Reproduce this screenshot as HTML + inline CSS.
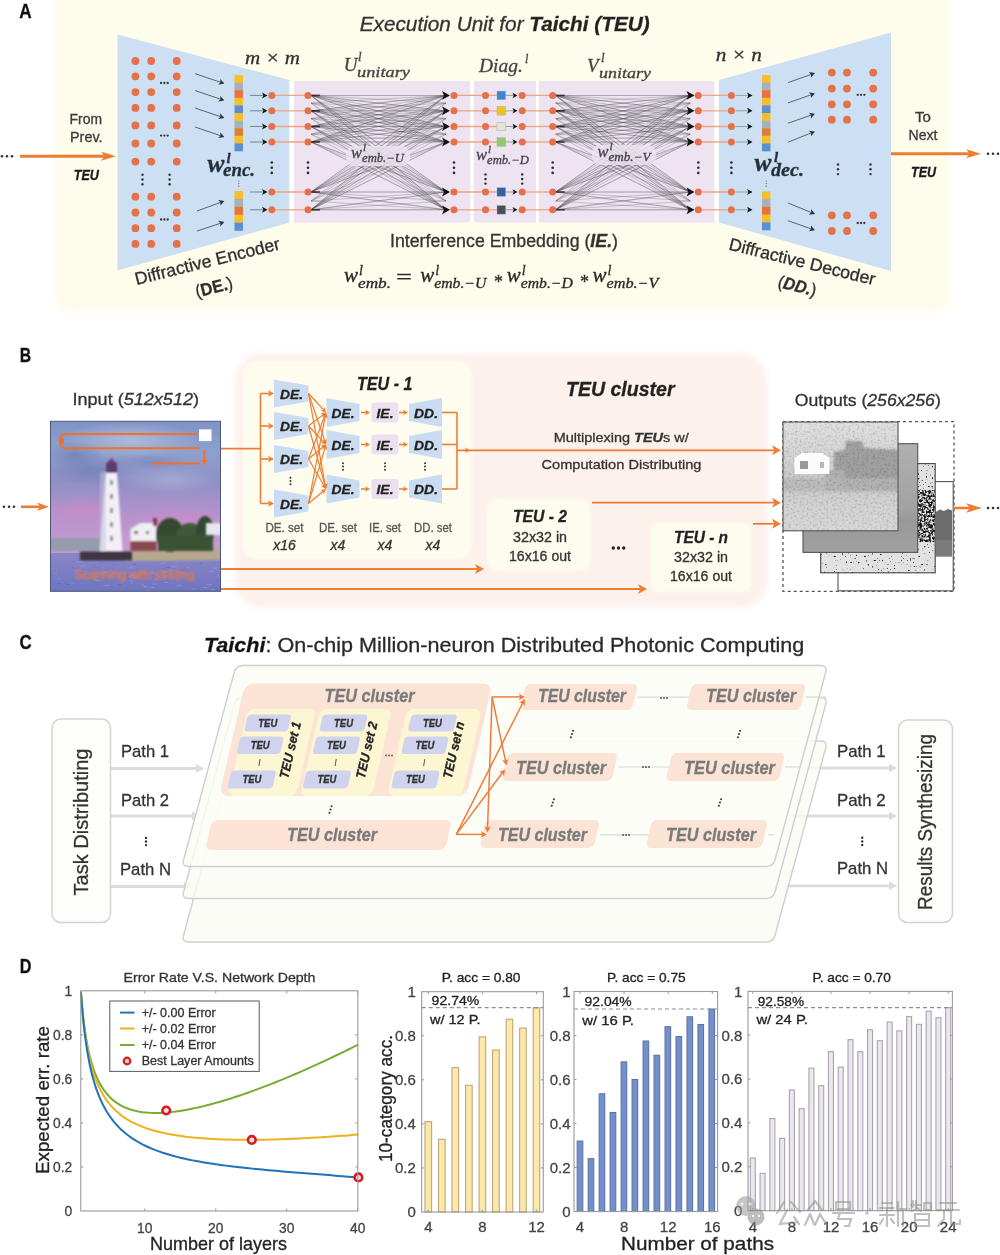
<!DOCTYPE html>
<html><head><meta charset="utf-8"><title>Taichi figure</title>
<style>html,body{margin:0;padding:0;background:#fff;} svg{display:block;filter:blur(0.45px);}</style>
</head><body>
<svg width="1000" height="1255" viewBox="0 0 1000 1255">
<defs>
<filter id="soft" x="-10%" y="-10%" width="120%" height="120%"><feGaussianBlur stdDeviation="3"/></filter>
<filter id="soft2" x="-10%" y="-10%" width="120%" height="120%"><feGaussianBlur stdDeviation="1.2"/></filter>
<filter id="soft1" x="-10%" y="-10%" width="120%" height="120%"><feGaussianBlur stdDeviation="0.6"/></filter>
</defs>
<rect width="1000" height="1255" fill="#ffffff"/>
<g id="panelA">
<rect x="55" y="-30" width="896" height="342" rx="14" fill="#fefceb" filter="url(#soft)"/>
<text x="19.3" y="18.4" font-family='"Liberation Sans", sans-serif' font-size="21" text-anchor="start" fill="#111" font-weight="bold" font-style="normal" textLength="12.4" lengthAdjust="spacingAndGlyphs"  stroke="#111" stroke-width="0.3">A</text>
<polygon points="117.5,34.5 289.5,80 289.5,222.5 117.5,270.5" fill="#cde0f3" />
<polygon points="719,80 891,32.5 891,271 719,222.5" fill="#cde0f3" />
<rect x="294" y="81" width="176.5" height="141.5" fill="#ede3f1" />
<rect x="473.5" y="81" width="62.5" height="141.5" fill="#ede3f1" />
<rect x="538.5" y="81" width="176" height="141.5" fill="#ede3f1" />
<rect x="289.5" y="81" width="4.5" height="141.5" fill="#fffffb" />
<rect x="470.5" y="81" width="3.0" height="141.5" fill="#fffffb" />
<rect x="536" y="81" width="2.5" height="141.5" fill="#fffffb" />
<rect x="714.5" y="81" width="4.5" height="141.5" fill="#fffffb" />
<circle cx="135.4" cy="61" r="3.9" fill="#e5714a" />
<circle cx="151.2" cy="61" r="3.9" fill="#e5714a" />
<circle cx="176.7" cy="61" r="3.9" fill="#e5714a" />
<circle cx="135.4" cy="76.3" r="3.9" fill="#e5714a" />
<circle cx="151.2" cy="76.3" r="3.9" fill="#e5714a" />
<circle cx="176.7" cy="76.3" r="3.9" fill="#e5714a" />
<circle cx="135.4" cy="92.1" r="3.9" fill="#e5714a" />
<circle cx="151.2" cy="92.1" r="3.9" fill="#e5714a" />
<circle cx="176.7" cy="92.1" r="3.9" fill="#e5714a" />
<circle cx="135.4" cy="107.9" r="3.9" fill="#e5714a" />
<circle cx="151.2" cy="107.9" r="3.9" fill="#e5714a" />
<circle cx="176.7" cy="107.9" r="3.9" fill="#e5714a" />
<circle cx="135.4" cy="125.4" r="3.9" fill="#e5714a" />
<circle cx="151.2" cy="125.4" r="3.9" fill="#e5714a" />
<circle cx="176.7" cy="125.4" r="3.9" fill="#e5714a" />
<circle cx="135.4" cy="143.5" r="3.9" fill="#e5714a" />
<circle cx="151.2" cy="143.5" r="3.9" fill="#e5714a" />
<circle cx="176.7" cy="143.5" r="3.9" fill="#e5714a" />
<circle cx="135.4" cy="161.6" r="3.9" fill="#e5714a" />
<circle cx="151.2" cy="161.6" r="3.9" fill="#e5714a" />
<circle cx="176.7" cy="161.6" r="3.9" fill="#e5714a" />
<circle cx="135.4" cy="196.7" r="3.9" fill="#e5714a" />
<circle cx="151.2" cy="196.7" r="3.9" fill="#e5714a" />
<circle cx="176.7" cy="196.7" r="3.9" fill="#e5714a" />
<circle cx="135.4" cy="212.5" r="3.9" fill="#e5714a" />
<circle cx="151.2" cy="212.5" r="3.9" fill="#e5714a" />
<circle cx="176.7" cy="212.5" r="3.9" fill="#e5714a" />
<circle cx="135.4" cy="228.2" r="3.9" fill="#e5714a" />
<circle cx="151.2" cy="228.2" r="3.9" fill="#e5714a" />
<circle cx="176.7" cy="228.2" r="3.9" fill="#e5714a" />
<circle cx="135.4" cy="243.9" r="3.9" fill="#e5714a" />
<circle cx="151.2" cy="243.9" r="3.9" fill="#e5714a" />
<circle cx="176.7" cy="243.9" r="3.9" fill="#e5714a" />
<circle cx="161.1" cy="83" r="1.15" fill="#333" />
<circle cx="164.4" cy="83" r="1.15" fill="#333" />
<circle cx="167.70000000000002" cy="83" r="1.15" fill="#333" />
<circle cx="161.1" cy="135.6" r="1.15" fill="#333" />
<circle cx="164.4" cy="135.6" r="1.15" fill="#333" />
<circle cx="167.70000000000002" cy="135.6" r="1.15" fill="#333" />
<circle cx="161.1" cy="219.5" r="1.15" fill="#333" />
<circle cx="164.4" cy="219.5" r="1.15" fill="#333" />
<circle cx="167.70000000000002" cy="219.5" r="1.15" fill="#333" />
<circle cx="142.5" cy="174.7" r="1.2" fill="#333" />
<circle cx="142.5" cy="179.5" r="1.2" fill="#333" />
<circle cx="142.5" cy="184.3" r="1.2" fill="#333" />
<circle cx="169.6" cy="174.7" r="1.2" fill="#333" />
<circle cx="169.6" cy="179.5" r="1.2" fill="#333" />
<circle cx="169.6" cy="184.3" r="1.2" fill="#333" />
<circle cx="831.8" cy="72.6" r="3.9" fill="#e5714a" />
<circle cx="847" cy="72.6" r="3.9" fill="#e5714a" />
<circle cx="873.2" cy="72.6" r="3.9" fill="#e5714a" />
<circle cx="831.8" cy="88.6" r="3.9" fill="#e5714a" />
<circle cx="847" cy="88.6" r="3.9" fill="#e5714a" />
<circle cx="873.2" cy="88.6" r="3.9" fill="#e5714a" />
<circle cx="831.8" cy="104.3" r="3.9" fill="#e5714a" />
<circle cx="847" cy="104.3" r="3.9" fill="#e5714a" />
<circle cx="873.2" cy="104.3" r="3.9" fill="#e5714a" />
<circle cx="831.8" cy="119.7" r="3.9" fill="#e5714a" />
<circle cx="847" cy="119.7" r="3.9" fill="#e5714a" />
<circle cx="873.2" cy="119.7" r="3.9" fill="#e5714a" />
<circle cx="831.8" cy="215.3" r="3.9" fill="#e5714a" />
<circle cx="847" cy="215.3" r="3.9" fill="#e5714a" />
<circle cx="873.2" cy="215.3" r="3.9" fill="#e5714a" />
<circle cx="831.8" cy="231" r="3.9" fill="#e5714a" />
<circle cx="847" cy="231" r="3.9" fill="#e5714a" />
<circle cx="873.2" cy="231" r="3.9" fill="#e5714a" />
<circle cx="857.7" cy="94.8" r="1.15" fill="#333" />
<circle cx="861.0" cy="94.8" r="1.15" fill="#333" />
<circle cx="864.3" cy="94.8" r="1.15" fill="#333" />
<circle cx="857.7" cy="223" r="1.15" fill="#333" />
<circle cx="861.0" cy="223" r="1.15" fill="#333" />
<circle cx="864.3" cy="223" r="1.15" fill="#333" />
<circle cx="838" cy="164.5" r="1.2" fill="#333" />
<circle cx="838" cy="169.3" r="1.2" fill="#333" />
<circle cx="838" cy="174.10000000000002" r="1.2" fill="#333" />
<circle cx="870.5" cy="164.5" r="1.2" fill="#333" />
<circle cx="870.5" cy="169.3" r="1.2" fill="#333" />
<circle cx="870.5" cy="174.10000000000002" r="1.2" fill="#333" />
<rect x="234.5" y="75.0" width="8.5" height="7.8999999999999995" fill="#f4bf2a" />
<rect x="234.5" y="82.6" width="8.5" height="7.8999999999999995" fill="#a9b1b8" />
<rect x="234.5" y="90.2" width="8.5" height="7.8999999999999995" fill="#e8743b" />
<rect x="234.5" y="97.8" width="8.5" height="7.8999999999999995" fill="#f4bf2a" />
<rect x="234.5" y="105.4" width="8.5" height="7.8999999999999995" fill="#5b8fcf" />
<rect x="234.5" y="113.0" width="8.5" height="7.8999999999999995" fill="#f4bf2a" />
<rect x="234.5" y="120.6" width="8.5" height="7.8999999999999995" fill="#a9b1b8" />
<rect x="234.5" y="128.2" width="8.5" height="7.8999999999999995" fill="#d9803a" />
<rect x="234.5" y="135.8" width="8.5" height="7.8999999999999995" fill="#f4bf2a" />
<rect x="234.5" y="143.39999999999998" width="8.5" height="7.8999999999999995" fill="#5b8fcf" />
<rect x="234.5" y="191.0" width="8.5" height="8.200000000000001" fill="#f4bf2a" />
<rect x="234.5" y="198.9" width="8.5" height="8.200000000000001" fill="#a9b1b8" />
<rect x="234.5" y="206.8" width="8.5" height="8.200000000000001" fill="#e8743b" />
<rect x="234.5" y="214.7" width="8.5" height="8.200000000000001" fill="#f4bf2a" />
<rect x="234.5" y="222.6" width="8.5" height="8.200000000000001" fill="#5b8fcf" />
<rect x="762" y="75.0" width="8.5" height="7.8999999999999995" fill="#f4bf2a" />
<rect x="762" y="82.6" width="8.5" height="7.8999999999999995" fill="#a9b1b8" />
<rect x="762" y="90.2" width="8.5" height="7.8999999999999995" fill="#e8743b" />
<rect x="762" y="97.8" width="8.5" height="7.8999999999999995" fill="#f4bf2a" />
<rect x="762" y="105.4" width="8.5" height="7.8999999999999995" fill="#5b8fcf" />
<rect x="762" y="113.0" width="8.5" height="7.8999999999999995" fill="#f4bf2a" />
<rect x="762" y="120.6" width="8.5" height="7.8999999999999995" fill="#a9b1b8" />
<rect x="762" y="128.2" width="8.5" height="7.8999999999999995" fill="#d9803a" />
<rect x="762" y="135.8" width="8.5" height="7.8999999999999995" fill="#f4bf2a" />
<rect x="762" y="143.39999999999998" width="8.5" height="7.8999999999999995" fill="#5b8fcf" />
<rect x="762" y="191.5" width="8.5" height="8.0" fill="#f4bf2a" />
<rect x="762" y="199.2" width="8.5" height="8.0" fill="#a9b1b8" />
<rect x="762" y="206.9" width="8.5" height="8.0" fill="#e8743b" />
<rect x="762" y="214.6" width="8.5" height="8.0" fill="#f4bf2a" />
<rect x="762" y="222.3" width="8.5" height="8.0" fill="#5b8fcf" />
<circle cx="238.8" cy="181.0" r="0.6" fill="#555" />
<circle cx="238.8" cy="183.6" r="0.6" fill="#555" />
<circle cx="238.8" cy="186.2" r="0.6" fill="#555" />
<circle cx="766.2" cy="181.0" r="0.6" fill="#555" />
<circle cx="766.2" cy="183.6" r="0.6" fill="#555" />
<circle cx="766.2" cy="186.2" r="0.6" fill="#555" />
<line x1="195" y1="73.6" x2="220.75507609680685" y2="82.36022996490028" stroke="#4a5560" stroke-width="0.9" />
<polygon points="224.4,83.6 218.21886082500285,84.69276873093789 220.4947243894359,82.27167496239315 220.16707088015957,78.9650311687772" fill="#2b3340" />
<line x1="195" y1="90.5" x2="220.75507609680685" y2="99.26022996490029" stroke="#4a5560" stroke-width="0.9" />
<polygon points="224.4,100.5 218.21886082500285,101.59276873093789 220.4947243894359,99.17167496239315 220.16707088015957,95.86503116877721" fill="#2b3340" />
<line x1="195" y1="108" x2="220.75507609680685" y2="116.76022996490029" stroke="#4a5560" stroke-width="0.9" />
<polygon points="224.4,118 218.21886082500285,119.09276873093789 220.4947243894359,116.67167496239315 220.16707088015957,113.36503116877721" fill="#2b3340" />
<line x1="195" y1="127" x2="220.75507609680685" y2="135.76022996490028" stroke="#4a5560" stroke-width="0.9" />
<polygon points="224.4,137 218.21886082500285,138.09276873093788 220.4947243894359,135.67167496239315 220.16707088015957,132.36503116877722" fill="#2b3340" />
<line x1="197" y1="211" x2="220.7833393494646" y2="202.31994914253116" stroke="#4a5560" stroke-width="0.9" />
<polygon points="224.4,201 220.2704448255096,205.7273035718938 220.5250064458549,202.41423122414056 218.1962390301035,200.043979692481" fill="#2b3340" />
<line x1="197" y1="231" x2="220.74226467273212" y2="223.20144591041645" stroke="#4a5560" stroke-width="0.9" />
<polygon points="224.4,222 220.11865703351594,226.59028620059115 220.48099786364153,223.2872634754462 218.2306706028615,220.84241640059872" fill="#2b3340" />
<line x1="788" y1="82.6" x2="811.3682472952761" y2="74.37783891462509" stroke="#4a5560" stroke-width="0.9" />
<polygon points="815,73.1 810.815798140457,77.77900414603323 811.1088363877958,74.46911312281259 808.8077655603317,72.07196418146702" fill="#2b3340" />
<line x1="788" y1="102.9" x2="811.3682472952761" y2="94.6778389146251" stroke="#4a5560" stroke-width="0.9" />
<polygon points="815,93.4 810.815798140457,98.07900414603324 811.1088363877958,94.7691131228126 808.8077655603317,92.37196418146704" fill="#2b3340" />
<line x1="788" y1="123.2" x2="811.3640508278443" y2="115.0658489710468" stroke="#4a5560" stroke-width="0.9" />
<polygon points="815,113.8 810.8003825170285,118.46517287961777 811.1043401726903,115.15626675469301 808.8111912768122,112.75153846623024" fill="#2b3340" />
<line x1="788" y1="142.2" x2="811.4253647400917" y2="132.8298541039633" stroke="#4a5560" stroke-width="0.9" />
<polygon points="815,131.4 811.0168349961023,136.2512907098755 811.1700336500983,132.9319865399607 808.76992140416,130.63400673001968" fill="#2b3340" />
<line x1="788" y1="203" x2="811.4345444148872" y2="212.54740698384296" stroke="#4a5560" stroke-width="0.9" />
<polygon points="815,214 808.765168937144,214.72629650807855 811.1798690159505,212.44365033983175 811.0478151053909,209.12343773147276" fill="#2b3340" />
<line x1="788" y1="220.7" x2="811.3682472952761" y2="228.92216108537488" stroke="#4a5560" stroke-width="0.9" />
<polygon points="815,230.2 808.8077655603317,231.22803581853296 811.1088363877958,228.8308868771874 810.815798140457,225.52099585396675" fill="#2b3340" />
<line x1="271.8" y1="95.4" x2="308" y2="95.4" stroke="#f0a383" stroke-width="1.3" />
<line x1="454" y1="95.4" x2="497" y2="95.4" stroke="#f0a383" stroke-width="1.3" />
<line x1="522.2" y1="95.4" x2="552.7" y2="95.4" stroke="#f0a383" stroke-width="1.3" />
<line x1="698.3" y1="95.4" x2="731.4" y2="95.4" stroke="#f0a383" stroke-width="1.3" />
<line x1="271.8" y1="110.8" x2="308" y2="110.8" stroke="#f0a383" stroke-width="1.3" />
<line x1="454" y1="110.8" x2="497" y2="110.8" stroke="#f0a383" stroke-width="1.3" />
<line x1="522.2" y1="110.8" x2="552.7" y2="110.8" stroke="#f0a383" stroke-width="1.3" />
<line x1="698.3" y1="110.8" x2="731.4" y2="110.8" stroke="#f0a383" stroke-width="1.3" />
<line x1="271.8" y1="126.5" x2="308" y2="126.5" stroke="#f0a383" stroke-width="1.3" />
<line x1="454" y1="126.5" x2="497" y2="126.5" stroke="#f0a383" stroke-width="1.3" />
<line x1="522.2" y1="126.5" x2="552.7" y2="126.5" stroke="#f0a383" stroke-width="1.3" />
<line x1="698.3" y1="126.5" x2="731.4" y2="126.5" stroke="#f0a383" stroke-width="1.3" />
<line x1="271.8" y1="142" x2="308" y2="142" stroke="#f0a383" stroke-width="1.3" />
<line x1="454" y1="142" x2="497" y2="142" stroke="#f0a383" stroke-width="1.3" />
<line x1="522.2" y1="142" x2="552.7" y2="142" stroke="#f0a383" stroke-width="1.3" />
<line x1="698.3" y1="142" x2="731.4" y2="142" stroke="#f0a383" stroke-width="1.3" />
<line x1="271.8" y1="192" x2="308" y2="192" stroke="#f0a383" stroke-width="1.3" />
<line x1="454" y1="192" x2="497" y2="192" stroke="#f0a383" stroke-width="1.3" />
<line x1="522.2" y1="192" x2="552.7" y2="192" stroke="#f0a383" stroke-width="1.3" />
<line x1="698.3" y1="192" x2="731.4" y2="192" stroke="#f0a383" stroke-width="1.3" />
<line x1="271.8" y1="209.8" x2="308" y2="209.8" stroke="#f0a383" stroke-width="1.3" />
<line x1="454" y1="209.8" x2="497" y2="209.8" stroke="#f0a383" stroke-width="1.3" />
<line x1="522.2" y1="209.8" x2="552.7" y2="209.8" stroke="#f0a383" stroke-width="1.3" />
<line x1="698.3" y1="209.8" x2="731.4" y2="209.8" stroke="#f0a383" stroke-width="1.3" />
<line x1="311" y1="95.4" x2="446" y2="95.4" stroke="#404040" stroke-width="0.7" opacity="0.34"/>
<line x1="311" y1="95.4" x2="446" y2="103" stroke="#404040" stroke-width="0.7" opacity="0.34"/>
<line x1="311" y1="95.4" x2="446" y2="110.8" stroke="#404040" stroke-width="0.7" opacity="0.34"/>
<line x1="311" y1="95.4" x2="446" y2="118.6" stroke="#404040" stroke-width="0.7" opacity="0.34"/>
<line x1="311" y1="95.4" x2="446" y2="126.5" stroke="#404040" stroke-width="0.7" opacity="0.34"/>
<line x1="311" y1="95.4" x2="446" y2="134.2" stroke="#404040" stroke-width="0.7" opacity="0.34"/>
<line x1="311" y1="95.4" x2="446" y2="142" stroke="#404040" stroke-width="0.7" opacity="0.34"/>
<line x1="311" y1="95.4" x2="446" y2="192" stroke="#404040" stroke-width="0.7" opacity="0.34"/>
<line x1="311" y1="95.4" x2="446" y2="201" stroke="#404040" stroke-width="0.7" opacity="0.34"/>
<line x1="311" y1="95.4" x2="446" y2="209.8" stroke="#404040" stroke-width="0.7" opacity="0.34"/>
<line x1="311" y1="110.8" x2="446" y2="95.4" stroke="#404040" stroke-width="0.7" opacity="0.34"/>
<line x1="311" y1="110.8" x2="446" y2="103" stroke="#404040" stroke-width="0.7" opacity="0.34"/>
<line x1="311" y1="110.8" x2="446" y2="110.8" stroke="#404040" stroke-width="0.7" opacity="0.34"/>
<line x1="311" y1="110.8" x2="446" y2="118.6" stroke="#404040" stroke-width="0.7" opacity="0.34"/>
<line x1="311" y1="110.8" x2="446" y2="126.5" stroke="#404040" stroke-width="0.7" opacity="0.34"/>
<line x1="311" y1="110.8" x2="446" y2="134.2" stroke="#404040" stroke-width="0.7" opacity="0.34"/>
<line x1="311" y1="110.8" x2="446" y2="142" stroke="#404040" stroke-width="0.7" opacity="0.34"/>
<line x1="311" y1="110.8" x2="446" y2="192" stroke="#404040" stroke-width="0.7" opacity="0.34"/>
<line x1="311" y1="110.8" x2="446" y2="201" stroke="#404040" stroke-width="0.7" opacity="0.34"/>
<line x1="311" y1="110.8" x2="446" y2="209.8" stroke="#404040" stroke-width="0.7" opacity="0.34"/>
<line x1="311" y1="126.5" x2="446" y2="95.4" stroke="#404040" stroke-width="0.7" opacity="0.34"/>
<line x1="311" y1="126.5" x2="446" y2="103" stroke="#404040" stroke-width="0.7" opacity="0.34"/>
<line x1="311" y1="126.5" x2="446" y2="110.8" stroke="#404040" stroke-width="0.7" opacity="0.34"/>
<line x1="311" y1="126.5" x2="446" y2="118.6" stroke="#404040" stroke-width="0.7" opacity="0.34"/>
<line x1="311" y1="126.5" x2="446" y2="126.5" stroke="#404040" stroke-width="0.7" opacity="0.34"/>
<line x1="311" y1="126.5" x2="446" y2="134.2" stroke="#404040" stroke-width="0.7" opacity="0.34"/>
<line x1="311" y1="126.5" x2="446" y2="142" stroke="#404040" stroke-width="0.7" opacity="0.34"/>
<line x1="311" y1="126.5" x2="446" y2="192" stroke="#404040" stroke-width="0.7" opacity="0.34"/>
<line x1="311" y1="126.5" x2="446" y2="201" stroke="#404040" stroke-width="0.7" opacity="0.34"/>
<line x1="311" y1="126.5" x2="446" y2="209.8" stroke="#404040" stroke-width="0.7" opacity="0.34"/>
<line x1="311" y1="142" x2="446" y2="95.4" stroke="#404040" stroke-width="0.7" opacity="0.34"/>
<line x1="311" y1="142" x2="446" y2="103" stroke="#404040" stroke-width="0.7" opacity="0.34"/>
<line x1="311" y1="142" x2="446" y2="110.8" stroke="#404040" stroke-width="0.7" opacity="0.34"/>
<line x1="311" y1="142" x2="446" y2="118.6" stroke="#404040" stroke-width="0.7" opacity="0.34"/>
<line x1="311" y1="142" x2="446" y2="126.5" stroke="#404040" stroke-width="0.7" opacity="0.34"/>
<line x1="311" y1="142" x2="446" y2="134.2" stroke="#404040" stroke-width="0.7" opacity="0.34"/>
<line x1="311" y1="142" x2="446" y2="142" stroke="#404040" stroke-width="0.7" opacity="0.34"/>
<line x1="311" y1="142" x2="446" y2="192" stroke="#404040" stroke-width="0.7" opacity="0.34"/>
<line x1="311" y1="142" x2="446" y2="201" stroke="#404040" stroke-width="0.7" opacity="0.34"/>
<line x1="311" y1="142" x2="446" y2="209.8" stroke="#404040" stroke-width="0.7" opacity="0.34"/>
<line x1="311" y1="192" x2="446" y2="95.4" stroke="#404040" stroke-width="0.7" opacity="0.34"/>
<line x1="311" y1="192" x2="446" y2="103" stroke="#404040" stroke-width="0.7" opacity="0.34"/>
<line x1="311" y1="192" x2="446" y2="110.8" stroke="#404040" stroke-width="0.7" opacity="0.34"/>
<line x1="311" y1="192" x2="446" y2="118.6" stroke="#404040" stroke-width="0.7" opacity="0.34"/>
<line x1="311" y1="192" x2="446" y2="126.5" stroke="#404040" stroke-width="0.7" opacity="0.34"/>
<line x1="311" y1="192" x2="446" y2="134.2" stroke="#404040" stroke-width="0.7" opacity="0.34"/>
<line x1="311" y1="192" x2="446" y2="142" stroke="#404040" stroke-width="0.7" opacity="0.34"/>
<line x1="311" y1="192" x2="446" y2="192" stroke="#404040" stroke-width="0.7" opacity="0.34"/>
<line x1="311" y1="192" x2="446" y2="201" stroke="#404040" stroke-width="0.7" opacity="0.34"/>
<line x1="311" y1="192" x2="446" y2="209.8" stroke="#404040" stroke-width="0.7" opacity="0.34"/>
<line x1="311" y1="209.8" x2="446" y2="95.4" stroke="#404040" stroke-width="0.7" opacity="0.34"/>
<line x1="311" y1="209.8" x2="446" y2="103" stroke="#404040" stroke-width="0.7" opacity="0.34"/>
<line x1="311" y1="209.8" x2="446" y2="110.8" stroke="#404040" stroke-width="0.7" opacity="0.34"/>
<line x1="311" y1="209.8" x2="446" y2="118.6" stroke="#404040" stroke-width="0.7" opacity="0.34"/>
<line x1="311" y1="209.8" x2="446" y2="126.5" stroke="#404040" stroke-width="0.7" opacity="0.34"/>
<line x1="311" y1="209.8" x2="446" y2="134.2" stroke="#404040" stroke-width="0.7" opacity="0.34"/>
<line x1="311" y1="209.8" x2="446" y2="142" stroke="#404040" stroke-width="0.7" opacity="0.34"/>
<line x1="311" y1="209.8" x2="446" y2="192" stroke="#404040" stroke-width="0.7" opacity="0.34"/>
<line x1="311" y1="209.8" x2="446" y2="201" stroke="#404040" stroke-width="0.7" opacity="0.34"/>
<line x1="311" y1="209.8" x2="446" y2="209.8" stroke="#404040" stroke-width="0.7" opacity="0.34"/>
<line x1="311" y1="95.4" x2="446" y2="95.4" stroke="#404040" stroke-width="0.7" opacity="0.34"/>
<line x1="311" y1="103" x2="446" y2="95.4" stroke="#404040" stroke-width="0.7" opacity="0.34"/>
<line x1="311" y1="110.8" x2="446" y2="95.4" stroke="#404040" stroke-width="0.7" opacity="0.34"/>
<line x1="311" y1="118.6" x2="446" y2="95.4" stroke="#404040" stroke-width="0.7" opacity="0.34"/>
<line x1="311" y1="126.5" x2="446" y2="95.4" stroke="#404040" stroke-width="0.7" opacity="0.34"/>
<line x1="311" y1="134.2" x2="446" y2="95.4" stroke="#404040" stroke-width="0.7" opacity="0.34"/>
<line x1="311" y1="142" x2="446" y2="95.4" stroke="#404040" stroke-width="0.7" opacity="0.34"/>
<line x1="311" y1="192" x2="446" y2="95.4" stroke="#404040" stroke-width="0.7" opacity="0.34"/>
<line x1="311" y1="201" x2="446" y2="95.4" stroke="#404040" stroke-width="0.7" opacity="0.34"/>
<line x1="311" y1="209.8" x2="446" y2="95.4" stroke="#404040" stroke-width="0.7" opacity="0.34"/>
<line x1="311" y1="95.4" x2="446" y2="110.8" stroke="#404040" stroke-width="0.7" opacity="0.34"/>
<line x1="311" y1="103" x2="446" y2="110.8" stroke="#404040" stroke-width="0.7" opacity="0.34"/>
<line x1="311" y1="110.8" x2="446" y2="110.8" stroke="#404040" stroke-width="0.7" opacity="0.34"/>
<line x1="311" y1="118.6" x2="446" y2="110.8" stroke="#404040" stroke-width="0.7" opacity="0.34"/>
<line x1="311" y1="126.5" x2="446" y2="110.8" stroke="#404040" stroke-width="0.7" opacity="0.34"/>
<line x1="311" y1="134.2" x2="446" y2="110.8" stroke="#404040" stroke-width="0.7" opacity="0.34"/>
<line x1="311" y1="142" x2="446" y2="110.8" stroke="#404040" stroke-width="0.7" opacity="0.34"/>
<line x1="311" y1="192" x2="446" y2="110.8" stroke="#404040" stroke-width="0.7" opacity="0.34"/>
<line x1="311" y1="201" x2="446" y2="110.8" stroke="#404040" stroke-width="0.7" opacity="0.34"/>
<line x1="311" y1="209.8" x2="446" y2="110.8" stroke="#404040" stroke-width="0.7" opacity="0.34"/>
<line x1="311" y1="95.4" x2="446" y2="126.5" stroke="#404040" stroke-width="0.7" opacity="0.34"/>
<line x1="311" y1="103" x2="446" y2="126.5" stroke="#404040" stroke-width="0.7" opacity="0.34"/>
<line x1="311" y1="110.8" x2="446" y2="126.5" stroke="#404040" stroke-width="0.7" opacity="0.34"/>
<line x1="311" y1="118.6" x2="446" y2="126.5" stroke="#404040" stroke-width="0.7" opacity="0.34"/>
<line x1="311" y1="126.5" x2="446" y2="126.5" stroke="#404040" stroke-width="0.7" opacity="0.34"/>
<line x1="311" y1="134.2" x2="446" y2="126.5" stroke="#404040" stroke-width="0.7" opacity="0.34"/>
<line x1="311" y1="142" x2="446" y2="126.5" stroke="#404040" stroke-width="0.7" opacity="0.34"/>
<line x1="311" y1="192" x2="446" y2="126.5" stroke="#404040" stroke-width="0.7" opacity="0.34"/>
<line x1="311" y1="201" x2="446" y2="126.5" stroke="#404040" stroke-width="0.7" opacity="0.34"/>
<line x1="311" y1="209.8" x2="446" y2="126.5" stroke="#404040" stroke-width="0.7" opacity="0.34"/>
<line x1="311" y1="95.4" x2="446" y2="142" stroke="#404040" stroke-width="0.7" opacity="0.34"/>
<line x1="311" y1="103" x2="446" y2="142" stroke="#404040" stroke-width="0.7" opacity="0.34"/>
<line x1="311" y1="110.8" x2="446" y2="142" stroke="#404040" stroke-width="0.7" opacity="0.34"/>
<line x1="311" y1="118.6" x2="446" y2="142" stroke="#404040" stroke-width="0.7" opacity="0.34"/>
<line x1="311" y1="126.5" x2="446" y2="142" stroke="#404040" stroke-width="0.7" opacity="0.34"/>
<line x1="311" y1="134.2" x2="446" y2="142" stroke="#404040" stroke-width="0.7" opacity="0.34"/>
<line x1="311" y1="142" x2="446" y2="142" stroke="#404040" stroke-width="0.7" opacity="0.34"/>
<line x1="311" y1="192" x2="446" y2="142" stroke="#404040" stroke-width="0.7" opacity="0.34"/>
<line x1="311" y1="201" x2="446" y2="142" stroke="#404040" stroke-width="0.7" opacity="0.34"/>
<line x1="311" y1="209.8" x2="446" y2="142" stroke="#404040" stroke-width="0.7" opacity="0.34"/>
<line x1="311" y1="95.4" x2="446" y2="192" stroke="#404040" stroke-width="0.7" opacity="0.34"/>
<line x1="311" y1="103" x2="446" y2="192" stroke="#404040" stroke-width="0.7" opacity="0.34"/>
<line x1="311" y1="110.8" x2="446" y2="192" stroke="#404040" stroke-width="0.7" opacity="0.34"/>
<line x1="311" y1="118.6" x2="446" y2="192" stroke="#404040" stroke-width="0.7" opacity="0.34"/>
<line x1="311" y1="126.5" x2="446" y2="192" stroke="#404040" stroke-width="0.7" opacity="0.34"/>
<line x1="311" y1="134.2" x2="446" y2="192" stroke="#404040" stroke-width="0.7" opacity="0.34"/>
<line x1="311" y1="142" x2="446" y2="192" stroke="#404040" stroke-width="0.7" opacity="0.34"/>
<line x1="311" y1="192" x2="446" y2="192" stroke="#404040" stroke-width="0.7" opacity="0.34"/>
<line x1="311" y1="201" x2="446" y2="192" stroke="#404040" stroke-width="0.7" opacity="0.34"/>
<line x1="311" y1="209.8" x2="446" y2="192" stroke="#404040" stroke-width="0.7" opacity="0.34"/>
<line x1="311" y1="95.4" x2="446" y2="209.8" stroke="#404040" stroke-width="0.7" opacity="0.34"/>
<line x1="311" y1="103" x2="446" y2="209.8" stroke="#404040" stroke-width="0.7" opacity="0.34"/>
<line x1="311" y1="110.8" x2="446" y2="209.8" stroke="#404040" stroke-width="0.7" opacity="0.34"/>
<line x1="311" y1="118.6" x2="446" y2="209.8" stroke="#404040" stroke-width="0.7" opacity="0.34"/>
<line x1="311" y1="126.5" x2="446" y2="209.8" stroke="#404040" stroke-width="0.7" opacity="0.34"/>
<line x1="311" y1="134.2" x2="446" y2="209.8" stroke="#404040" stroke-width="0.7" opacity="0.34"/>
<line x1="311" y1="142" x2="446" y2="209.8" stroke="#404040" stroke-width="0.7" opacity="0.34"/>
<line x1="311" y1="192" x2="446" y2="209.8" stroke="#404040" stroke-width="0.7" opacity="0.34"/>
<line x1="311" y1="201" x2="446" y2="209.8" stroke="#404040" stroke-width="0.7" opacity="0.34"/>
<line x1="311" y1="209.8" x2="446" y2="209.8" stroke="#404040" stroke-width="0.7" opacity="0.34"/>
<line x1="311" y1="95.4" x2="320" y2="95.4" stroke="#222" stroke-width="1.6" opacity="0.8"/>
<line x1="311" y1="110.8" x2="320" y2="110.8" stroke="#222" stroke-width="1.6" opacity="0.8"/>
<line x1="311" y1="126.5" x2="320" y2="126.5" stroke="#222" stroke-width="1.6" opacity="0.8"/>
<line x1="311" y1="142" x2="320" y2="142" stroke="#222" stroke-width="1.6" opacity="0.8"/>
<line x1="311" y1="192" x2="320" y2="192" stroke="#222" stroke-width="1.6" opacity="0.8"/>
<line x1="311" y1="209.8" x2="320" y2="209.8" stroke="#222" stroke-width="1.6" opacity="0.8"/>
<line x1="555.7" y1="95.4" x2="690.3" y2="95.4" stroke="#404040" stroke-width="0.7" opacity="0.34"/>
<line x1="555.7" y1="95.4" x2="690.3" y2="103" stroke="#404040" stroke-width="0.7" opacity="0.34"/>
<line x1="555.7" y1="95.4" x2="690.3" y2="110.8" stroke="#404040" stroke-width="0.7" opacity="0.34"/>
<line x1="555.7" y1="95.4" x2="690.3" y2="118.6" stroke="#404040" stroke-width="0.7" opacity="0.34"/>
<line x1="555.7" y1="95.4" x2="690.3" y2="126.5" stroke="#404040" stroke-width="0.7" opacity="0.34"/>
<line x1="555.7" y1="95.4" x2="690.3" y2="134.2" stroke="#404040" stroke-width="0.7" opacity="0.34"/>
<line x1="555.7" y1="95.4" x2="690.3" y2="142" stroke="#404040" stroke-width="0.7" opacity="0.34"/>
<line x1="555.7" y1="95.4" x2="690.3" y2="192" stroke="#404040" stroke-width="0.7" opacity="0.34"/>
<line x1="555.7" y1="95.4" x2="690.3" y2="201" stroke="#404040" stroke-width="0.7" opacity="0.34"/>
<line x1="555.7" y1="95.4" x2="690.3" y2="209.8" stroke="#404040" stroke-width="0.7" opacity="0.34"/>
<line x1="555.7" y1="110.8" x2="690.3" y2="95.4" stroke="#404040" stroke-width="0.7" opacity="0.34"/>
<line x1="555.7" y1="110.8" x2="690.3" y2="103" stroke="#404040" stroke-width="0.7" opacity="0.34"/>
<line x1="555.7" y1="110.8" x2="690.3" y2="110.8" stroke="#404040" stroke-width="0.7" opacity="0.34"/>
<line x1="555.7" y1="110.8" x2="690.3" y2="118.6" stroke="#404040" stroke-width="0.7" opacity="0.34"/>
<line x1="555.7" y1="110.8" x2="690.3" y2="126.5" stroke="#404040" stroke-width="0.7" opacity="0.34"/>
<line x1="555.7" y1="110.8" x2="690.3" y2="134.2" stroke="#404040" stroke-width="0.7" opacity="0.34"/>
<line x1="555.7" y1="110.8" x2="690.3" y2="142" stroke="#404040" stroke-width="0.7" opacity="0.34"/>
<line x1="555.7" y1="110.8" x2="690.3" y2="192" stroke="#404040" stroke-width="0.7" opacity="0.34"/>
<line x1="555.7" y1="110.8" x2="690.3" y2="201" stroke="#404040" stroke-width="0.7" opacity="0.34"/>
<line x1="555.7" y1="110.8" x2="690.3" y2="209.8" stroke="#404040" stroke-width="0.7" opacity="0.34"/>
<line x1="555.7" y1="126.5" x2="690.3" y2="95.4" stroke="#404040" stroke-width="0.7" opacity="0.34"/>
<line x1="555.7" y1="126.5" x2="690.3" y2="103" stroke="#404040" stroke-width="0.7" opacity="0.34"/>
<line x1="555.7" y1="126.5" x2="690.3" y2="110.8" stroke="#404040" stroke-width="0.7" opacity="0.34"/>
<line x1="555.7" y1="126.5" x2="690.3" y2="118.6" stroke="#404040" stroke-width="0.7" opacity="0.34"/>
<line x1="555.7" y1="126.5" x2="690.3" y2="126.5" stroke="#404040" stroke-width="0.7" opacity="0.34"/>
<line x1="555.7" y1="126.5" x2="690.3" y2="134.2" stroke="#404040" stroke-width="0.7" opacity="0.34"/>
<line x1="555.7" y1="126.5" x2="690.3" y2="142" stroke="#404040" stroke-width="0.7" opacity="0.34"/>
<line x1="555.7" y1="126.5" x2="690.3" y2="192" stroke="#404040" stroke-width="0.7" opacity="0.34"/>
<line x1="555.7" y1="126.5" x2="690.3" y2="201" stroke="#404040" stroke-width="0.7" opacity="0.34"/>
<line x1="555.7" y1="126.5" x2="690.3" y2="209.8" stroke="#404040" stroke-width="0.7" opacity="0.34"/>
<line x1="555.7" y1="142" x2="690.3" y2="95.4" stroke="#404040" stroke-width="0.7" opacity="0.34"/>
<line x1="555.7" y1="142" x2="690.3" y2="103" stroke="#404040" stroke-width="0.7" opacity="0.34"/>
<line x1="555.7" y1="142" x2="690.3" y2="110.8" stroke="#404040" stroke-width="0.7" opacity="0.34"/>
<line x1="555.7" y1="142" x2="690.3" y2="118.6" stroke="#404040" stroke-width="0.7" opacity="0.34"/>
<line x1="555.7" y1="142" x2="690.3" y2="126.5" stroke="#404040" stroke-width="0.7" opacity="0.34"/>
<line x1="555.7" y1="142" x2="690.3" y2="134.2" stroke="#404040" stroke-width="0.7" opacity="0.34"/>
<line x1="555.7" y1="142" x2="690.3" y2="142" stroke="#404040" stroke-width="0.7" opacity="0.34"/>
<line x1="555.7" y1="142" x2="690.3" y2="192" stroke="#404040" stroke-width="0.7" opacity="0.34"/>
<line x1="555.7" y1="142" x2="690.3" y2="201" stroke="#404040" stroke-width="0.7" opacity="0.34"/>
<line x1="555.7" y1="142" x2="690.3" y2="209.8" stroke="#404040" stroke-width="0.7" opacity="0.34"/>
<line x1="555.7" y1="192" x2="690.3" y2="95.4" stroke="#404040" stroke-width="0.7" opacity="0.34"/>
<line x1="555.7" y1="192" x2="690.3" y2="103" stroke="#404040" stroke-width="0.7" opacity="0.34"/>
<line x1="555.7" y1="192" x2="690.3" y2="110.8" stroke="#404040" stroke-width="0.7" opacity="0.34"/>
<line x1="555.7" y1="192" x2="690.3" y2="118.6" stroke="#404040" stroke-width="0.7" opacity="0.34"/>
<line x1="555.7" y1="192" x2="690.3" y2="126.5" stroke="#404040" stroke-width="0.7" opacity="0.34"/>
<line x1="555.7" y1="192" x2="690.3" y2="134.2" stroke="#404040" stroke-width="0.7" opacity="0.34"/>
<line x1="555.7" y1="192" x2="690.3" y2="142" stroke="#404040" stroke-width="0.7" opacity="0.34"/>
<line x1="555.7" y1="192" x2="690.3" y2="192" stroke="#404040" stroke-width="0.7" opacity="0.34"/>
<line x1="555.7" y1="192" x2="690.3" y2="201" stroke="#404040" stroke-width="0.7" opacity="0.34"/>
<line x1="555.7" y1="192" x2="690.3" y2="209.8" stroke="#404040" stroke-width="0.7" opacity="0.34"/>
<line x1="555.7" y1="209.8" x2="690.3" y2="95.4" stroke="#404040" stroke-width="0.7" opacity="0.34"/>
<line x1="555.7" y1="209.8" x2="690.3" y2="103" stroke="#404040" stroke-width="0.7" opacity="0.34"/>
<line x1="555.7" y1="209.8" x2="690.3" y2="110.8" stroke="#404040" stroke-width="0.7" opacity="0.34"/>
<line x1="555.7" y1="209.8" x2="690.3" y2="118.6" stroke="#404040" stroke-width="0.7" opacity="0.34"/>
<line x1="555.7" y1="209.8" x2="690.3" y2="126.5" stroke="#404040" stroke-width="0.7" opacity="0.34"/>
<line x1="555.7" y1="209.8" x2="690.3" y2="134.2" stroke="#404040" stroke-width="0.7" opacity="0.34"/>
<line x1="555.7" y1="209.8" x2="690.3" y2="142" stroke="#404040" stroke-width="0.7" opacity="0.34"/>
<line x1="555.7" y1="209.8" x2="690.3" y2="192" stroke="#404040" stroke-width="0.7" opacity="0.34"/>
<line x1="555.7" y1="209.8" x2="690.3" y2="201" stroke="#404040" stroke-width="0.7" opacity="0.34"/>
<line x1="555.7" y1="209.8" x2="690.3" y2="209.8" stroke="#404040" stroke-width="0.7" opacity="0.34"/>
<line x1="555.7" y1="95.4" x2="690.3" y2="95.4" stroke="#404040" stroke-width="0.7" opacity="0.34"/>
<line x1="555.7" y1="103" x2="690.3" y2="95.4" stroke="#404040" stroke-width="0.7" opacity="0.34"/>
<line x1="555.7" y1="110.8" x2="690.3" y2="95.4" stroke="#404040" stroke-width="0.7" opacity="0.34"/>
<line x1="555.7" y1="118.6" x2="690.3" y2="95.4" stroke="#404040" stroke-width="0.7" opacity="0.34"/>
<line x1="555.7" y1="126.5" x2="690.3" y2="95.4" stroke="#404040" stroke-width="0.7" opacity="0.34"/>
<line x1="555.7" y1="134.2" x2="690.3" y2="95.4" stroke="#404040" stroke-width="0.7" opacity="0.34"/>
<line x1="555.7" y1="142" x2="690.3" y2="95.4" stroke="#404040" stroke-width="0.7" opacity="0.34"/>
<line x1="555.7" y1="192" x2="690.3" y2="95.4" stroke="#404040" stroke-width="0.7" opacity="0.34"/>
<line x1="555.7" y1="201" x2="690.3" y2="95.4" stroke="#404040" stroke-width="0.7" opacity="0.34"/>
<line x1="555.7" y1="209.8" x2="690.3" y2="95.4" stroke="#404040" stroke-width="0.7" opacity="0.34"/>
<line x1="555.7" y1="95.4" x2="690.3" y2="110.8" stroke="#404040" stroke-width="0.7" opacity="0.34"/>
<line x1="555.7" y1="103" x2="690.3" y2="110.8" stroke="#404040" stroke-width="0.7" opacity="0.34"/>
<line x1="555.7" y1="110.8" x2="690.3" y2="110.8" stroke="#404040" stroke-width="0.7" opacity="0.34"/>
<line x1="555.7" y1="118.6" x2="690.3" y2="110.8" stroke="#404040" stroke-width="0.7" opacity="0.34"/>
<line x1="555.7" y1="126.5" x2="690.3" y2="110.8" stroke="#404040" stroke-width="0.7" opacity="0.34"/>
<line x1="555.7" y1="134.2" x2="690.3" y2="110.8" stroke="#404040" stroke-width="0.7" opacity="0.34"/>
<line x1="555.7" y1="142" x2="690.3" y2="110.8" stroke="#404040" stroke-width="0.7" opacity="0.34"/>
<line x1="555.7" y1="192" x2="690.3" y2="110.8" stroke="#404040" stroke-width="0.7" opacity="0.34"/>
<line x1="555.7" y1="201" x2="690.3" y2="110.8" stroke="#404040" stroke-width="0.7" opacity="0.34"/>
<line x1="555.7" y1="209.8" x2="690.3" y2="110.8" stroke="#404040" stroke-width="0.7" opacity="0.34"/>
<line x1="555.7" y1="95.4" x2="690.3" y2="126.5" stroke="#404040" stroke-width="0.7" opacity="0.34"/>
<line x1="555.7" y1="103" x2="690.3" y2="126.5" stroke="#404040" stroke-width="0.7" opacity="0.34"/>
<line x1="555.7" y1="110.8" x2="690.3" y2="126.5" stroke="#404040" stroke-width="0.7" opacity="0.34"/>
<line x1="555.7" y1="118.6" x2="690.3" y2="126.5" stroke="#404040" stroke-width="0.7" opacity="0.34"/>
<line x1="555.7" y1="126.5" x2="690.3" y2="126.5" stroke="#404040" stroke-width="0.7" opacity="0.34"/>
<line x1="555.7" y1="134.2" x2="690.3" y2="126.5" stroke="#404040" stroke-width="0.7" opacity="0.34"/>
<line x1="555.7" y1="142" x2="690.3" y2="126.5" stroke="#404040" stroke-width="0.7" opacity="0.34"/>
<line x1="555.7" y1="192" x2="690.3" y2="126.5" stroke="#404040" stroke-width="0.7" opacity="0.34"/>
<line x1="555.7" y1="201" x2="690.3" y2="126.5" stroke="#404040" stroke-width="0.7" opacity="0.34"/>
<line x1="555.7" y1="209.8" x2="690.3" y2="126.5" stroke="#404040" stroke-width="0.7" opacity="0.34"/>
<line x1="555.7" y1="95.4" x2="690.3" y2="142" stroke="#404040" stroke-width="0.7" opacity="0.34"/>
<line x1="555.7" y1="103" x2="690.3" y2="142" stroke="#404040" stroke-width="0.7" opacity="0.34"/>
<line x1="555.7" y1="110.8" x2="690.3" y2="142" stroke="#404040" stroke-width="0.7" opacity="0.34"/>
<line x1="555.7" y1="118.6" x2="690.3" y2="142" stroke="#404040" stroke-width="0.7" opacity="0.34"/>
<line x1="555.7" y1="126.5" x2="690.3" y2="142" stroke="#404040" stroke-width="0.7" opacity="0.34"/>
<line x1="555.7" y1="134.2" x2="690.3" y2="142" stroke="#404040" stroke-width="0.7" opacity="0.34"/>
<line x1="555.7" y1="142" x2="690.3" y2="142" stroke="#404040" stroke-width="0.7" opacity="0.34"/>
<line x1="555.7" y1="192" x2="690.3" y2="142" stroke="#404040" stroke-width="0.7" opacity="0.34"/>
<line x1="555.7" y1="201" x2="690.3" y2="142" stroke="#404040" stroke-width="0.7" opacity="0.34"/>
<line x1="555.7" y1="209.8" x2="690.3" y2="142" stroke="#404040" stroke-width="0.7" opacity="0.34"/>
<line x1="555.7" y1="95.4" x2="690.3" y2="192" stroke="#404040" stroke-width="0.7" opacity="0.34"/>
<line x1="555.7" y1="103" x2="690.3" y2="192" stroke="#404040" stroke-width="0.7" opacity="0.34"/>
<line x1="555.7" y1="110.8" x2="690.3" y2="192" stroke="#404040" stroke-width="0.7" opacity="0.34"/>
<line x1="555.7" y1="118.6" x2="690.3" y2="192" stroke="#404040" stroke-width="0.7" opacity="0.34"/>
<line x1="555.7" y1="126.5" x2="690.3" y2="192" stroke="#404040" stroke-width="0.7" opacity="0.34"/>
<line x1="555.7" y1="134.2" x2="690.3" y2="192" stroke="#404040" stroke-width="0.7" opacity="0.34"/>
<line x1="555.7" y1="142" x2="690.3" y2="192" stroke="#404040" stroke-width="0.7" opacity="0.34"/>
<line x1="555.7" y1="192" x2="690.3" y2="192" stroke="#404040" stroke-width="0.7" opacity="0.34"/>
<line x1="555.7" y1="201" x2="690.3" y2="192" stroke="#404040" stroke-width="0.7" opacity="0.34"/>
<line x1="555.7" y1="209.8" x2="690.3" y2="192" stroke="#404040" stroke-width="0.7" opacity="0.34"/>
<line x1="555.7" y1="95.4" x2="690.3" y2="209.8" stroke="#404040" stroke-width="0.7" opacity="0.34"/>
<line x1="555.7" y1="103" x2="690.3" y2="209.8" stroke="#404040" stroke-width="0.7" opacity="0.34"/>
<line x1="555.7" y1="110.8" x2="690.3" y2="209.8" stroke="#404040" stroke-width="0.7" opacity="0.34"/>
<line x1="555.7" y1="118.6" x2="690.3" y2="209.8" stroke="#404040" stroke-width="0.7" opacity="0.34"/>
<line x1="555.7" y1="126.5" x2="690.3" y2="209.8" stroke="#404040" stroke-width="0.7" opacity="0.34"/>
<line x1="555.7" y1="134.2" x2="690.3" y2="209.8" stroke="#404040" stroke-width="0.7" opacity="0.34"/>
<line x1="555.7" y1="142" x2="690.3" y2="209.8" stroke="#404040" stroke-width="0.7" opacity="0.34"/>
<line x1="555.7" y1="192" x2="690.3" y2="209.8" stroke="#404040" stroke-width="0.7" opacity="0.34"/>
<line x1="555.7" y1="201" x2="690.3" y2="209.8" stroke="#404040" stroke-width="0.7" opacity="0.34"/>
<line x1="555.7" y1="209.8" x2="690.3" y2="209.8" stroke="#404040" stroke-width="0.7" opacity="0.34"/>
<line x1="555.7" y1="95.4" x2="564.7" y2="95.4" stroke="#222" stroke-width="1.6" opacity="0.8"/>
<line x1="555.7" y1="110.8" x2="564.7" y2="110.8" stroke="#222" stroke-width="1.6" opacity="0.8"/>
<line x1="555.7" y1="126.5" x2="564.7" y2="126.5" stroke="#222" stroke-width="1.6" opacity="0.8"/>
<line x1="555.7" y1="142" x2="564.7" y2="142" stroke="#222" stroke-width="1.6" opacity="0.8"/>
<line x1="555.7" y1="192" x2="564.7" y2="192" stroke="#222" stroke-width="1.6" opacity="0.8"/>
<line x1="555.7" y1="209.8" x2="564.7" y2="209.8" stroke="#222" stroke-width="1.6" opacity="0.8"/>
<polygon points="450,95.4 442.0,99.80000000000001 444.0,95.4 442.0,91.0" fill="#111" />
<polygon points="694.5,95.4 686.5,99.80000000000001 688.5,95.4 686.5,91.0" fill="#111" />
<polygon points="450,110.8 442.0,115.2 444.0,110.8 442.0,106.39999999999999" fill="#111" />
<polygon points="694.5,110.8 686.5,115.2 688.5,110.8 686.5,106.39999999999999" fill="#111" />
<polygon points="450,126.5 442.0,130.9 444.0,126.5 442.0,122.1" fill="#111" />
<polygon points="694.5,126.5 686.5,130.9 688.5,126.5 686.5,122.1" fill="#111" />
<polygon points="450,142 442.0,146.4 444.0,142.0 442.0,137.6" fill="#111" />
<polygon points="694.5,142 686.5,146.4 688.5,142.0 686.5,137.6" fill="#111" />
<polygon points="450,192 442.0,196.4 444.0,192.0 442.0,187.6" fill="#111" />
<polygon points="694.5,192 686.5,196.4 688.5,192.0 686.5,187.6" fill="#111" />
<polygon points="450,209.8 442.0,214.20000000000002 444.0,209.8 442.0,205.4" fill="#111" />
<polygon points="694.5,209.8 686.5,214.20000000000002 688.5,209.8 686.5,205.4" fill="#111" />
<line x1="250" y1="95.4" x2="263.65" y2="95.4" stroke="#6a7a8a" stroke-width="0.9" />
<polygon points="267.5,95.4 262.0,98.42500000000001 263.375,95.4 262.0,92.375" fill="#111" />
<line x1="735.5" y1="95.4" x2="748.65" y2="95.4" stroke="#8a9aa0" stroke-width="0.9" />
<polygon points="752.5,95.4 747.0,98.42500000000001 748.375,95.4 747.0,92.375" fill="#111" />
<line x1="250" y1="110.8" x2="263.65" y2="110.8" stroke="#6a7a8a" stroke-width="0.9" />
<polygon points="267.5,110.8 262.0,113.825 263.375,110.8 262.0,107.77499999999999" fill="#111" />
<line x1="735.5" y1="110.8" x2="748.65" y2="110.8" stroke="#8a9aa0" stroke-width="0.9" />
<polygon points="752.5,110.8 747.0,113.825 748.375,110.8 747.0,107.77499999999999" fill="#111" />
<line x1="250" y1="126.5" x2="263.65" y2="126.5" stroke="#6a7a8a" stroke-width="0.9" />
<polygon points="267.5,126.5 262.0,129.525 263.375,126.5 262.0,123.475" fill="#111" />
<line x1="735.5" y1="126.5" x2="748.65" y2="126.5" stroke="#8a9aa0" stroke-width="0.9" />
<polygon points="752.5,126.5 747.0,129.525 748.375,126.5 747.0,123.475" fill="#111" />
<line x1="250" y1="142" x2="263.65" y2="142.0" stroke="#6a7a8a" stroke-width="0.9" />
<polygon points="267.5,142 262.0,145.025 263.375,142.0 262.0,138.975" fill="#111" />
<line x1="735.5" y1="142" x2="748.65" y2="142.0" stroke="#8a9aa0" stroke-width="0.9" />
<polygon points="752.5,142 747.0,145.025 748.375,142.0 747.0,138.975" fill="#111" />
<line x1="250" y1="192" x2="263.65" y2="192.0" stroke="#6a7a8a" stroke-width="0.9" />
<polygon points="267.5,192 262.0,195.025 263.375,192.0 262.0,188.975" fill="#111" />
<line x1="735.5" y1="192" x2="748.65" y2="192.0" stroke="#8a9aa0" stroke-width="0.9" />
<polygon points="752.5,192 747.0,195.025 748.375,192.0 747.0,188.975" fill="#111" />
<line x1="250" y1="209.8" x2="263.65" y2="209.8" stroke="#6a7a8a" stroke-width="0.9" />
<polygon points="267.5,209.8 262.0,212.82500000000002 263.375,209.8 262.0,206.775" fill="#111" />
<line x1="735.5" y1="209.8" x2="748.65" y2="209.8" stroke="#8a9aa0" stroke-width="0.9" />
<polygon points="752.5,209.8 747.0,212.82500000000002 748.375,209.8 747.0,206.775" fill="#111" />
<line x1="505.5" y1="95.4" x2="514.0" y2="95.4" stroke="#888" stroke-width="0.8" />
<polygon points="517.5,95.4 512.5,98.15 513.75,95.4 512.5,92.65" fill="#111" />
<line x1="505.5" y1="110.8" x2="514.0" y2="110.8" stroke="#888" stroke-width="0.8" />
<polygon points="517.5,110.8 512.5,113.55 513.75,110.8 512.5,108.05" fill="#111" />
<line x1="505.5" y1="126.5" x2="514.0" y2="126.5" stroke="#888" stroke-width="0.8" />
<polygon points="517.5,126.5 512.5,129.25 513.75,126.5 512.5,123.75" fill="#111" />
<line x1="505.5" y1="142" x2="514.0" y2="142.0" stroke="#888" stroke-width="0.8" />
<polygon points="517.5,142 512.5,144.75 513.75,142.0 512.5,139.25" fill="#111" />
<line x1="505.5" y1="192" x2="514.0" y2="192.0" stroke="#888" stroke-width="0.8" />
<polygon points="517.5,192 512.5,194.75 513.75,192.0 512.5,189.25" fill="#111" />
<line x1="505.5" y1="209.8" x2="514.0" y2="209.8" stroke="#888" stroke-width="0.8" />
<polygon points="517.5,209.8 512.5,212.55 513.75,209.8 512.5,207.05" fill="#111" />
<circle cx="271.8" cy="95.4" r="3.5" fill="#e5714a" />
<circle cx="308" cy="95.4" r="3.5" fill="#e5714a" />
<circle cx="454" cy="95.4" r="3.5" fill="#e5714a" />
<circle cx="485.5" cy="95.4" r="3.5" fill="#e5714a" />
<circle cx="522.2" cy="95.4" r="3.5" fill="#e5714a" />
<circle cx="552.7" cy="95.4" r="3.5" fill="#e5714a" />
<circle cx="698.3" cy="95.4" r="3.5" fill="#e5714a" />
<circle cx="731.4" cy="95.4" r="3.5" fill="#e5714a" />
<circle cx="271.8" cy="110.8" r="3.5" fill="#e5714a" />
<circle cx="308" cy="110.8" r="3.5" fill="#e5714a" />
<circle cx="454" cy="110.8" r="3.5" fill="#e5714a" />
<circle cx="485.5" cy="110.8" r="3.5" fill="#e5714a" />
<circle cx="522.2" cy="110.8" r="3.5" fill="#e5714a" />
<circle cx="552.7" cy="110.8" r="3.5" fill="#e5714a" />
<circle cx="698.3" cy="110.8" r="3.5" fill="#e5714a" />
<circle cx="731.4" cy="110.8" r="3.5" fill="#e5714a" />
<circle cx="271.8" cy="126.5" r="3.5" fill="#e5714a" />
<circle cx="308" cy="126.5" r="3.5" fill="#e5714a" />
<circle cx="454" cy="126.5" r="3.5" fill="#e5714a" />
<circle cx="485.5" cy="126.5" r="3.5" fill="#e5714a" />
<circle cx="522.2" cy="126.5" r="3.5" fill="#e5714a" />
<circle cx="552.7" cy="126.5" r="3.5" fill="#e5714a" />
<circle cx="698.3" cy="126.5" r="3.5" fill="#e5714a" />
<circle cx="731.4" cy="126.5" r="3.5" fill="#e5714a" />
<circle cx="271.8" cy="142" r="3.5" fill="#e5714a" />
<circle cx="308" cy="142" r="3.5" fill="#e5714a" />
<circle cx="454" cy="142" r="3.5" fill="#e5714a" />
<circle cx="485.5" cy="142" r="3.5" fill="#e5714a" />
<circle cx="522.2" cy="142" r="3.5" fill="#e5714a" />
<circle cx="552.7" cy="142" r="3.5" fill="#e5714a" />
<circle cx="698.3" cy="142" r="3.5" fill="#e5714a" />
<circle cx="731.4" cy="142" r="3.5" fill="#e5714a" />
<circle cx="271.8" cy="192" r="3.5" fill="#e5714a" />
<circle cx="308" cy="192" r="3.5" fill="#e5714a" />
<circle cx="454" cy="192" r="3.5" fill="#e5714a" />
<circle cx="485.5" cy="192" r="3.5" fill="#e5714a" />
<circle cx="522.2" cy="192" r="3.5" fill="#e5714a" />
<circle cx="552.7" cy="192" r="3.5" fill="#e5714a" />
<circle cx="698.3" cy="192" r="3.5" fill="#e5714a" />
<circle cx="731.4" cy="192" r="3.5" fill="#e5714a" />
<circle cx="271.8" cy="209.8" r="3.5" fill="#e5714a" />
<circle cx="308" cy="209.8" r="3.5" fill="#e5714a" />
<circle cx="454" cy="209.8" r="3.5" fill="#e5714a" />
<circle cx="485.5" cy="209.8" r="3.5" fill="#e5714a" />
<circle cx="522.2" cy="209.8" r="3.5" fill="#e5714a" />
<circle cx="552.7" cy="209.8" r="3.5" fill="#e5714a" />
<circle cx="698.3" cy="209.8" r="3.5" fill="#e5714a" />
<circle cx="731.4" cy="209.8" r="3.5" fill="#e5714a" />
<rect x="497" y="91.10000000000001" width="8.6" height="8.6" fill="#3f84d4" stroke="#9aa" stroke-width="0.4"/>
<rect x="497" y="106.5" width="8.6" height="8.6" fill="#f1c21b" stroke="#9aa" stroke-width="0.4"/>
<rect x="497" y="122.2" width="8.6" height="8.6" fill="#dfe6d8" stroke="#9aa" stroke-width="0.4"/>
<rect x="497" y="137.7" width="8.6" height="8.6" fill="#8ccc6c" stroke="#9aa" stroke-width="0.4"/>
<rect x="497" y="187.7" width="8.6" height="8.6" fill="#2f62a8" stroke="#9aa" stroke-width="0.4"/>
<rect x="497" y="205.5" width="8.6" height="8.6" fill="#4a5058" stroke="#9aa" stroke-width="0.4"/>
<circle cx="271.8" cy="162.5" r="1.3" fill="#2a2a2a" />
<circle cx="271.8" cy="167.7" r="1.3" fill="#2a2a2a" />
<circle cx="271.8" cy="172.89999999999998" r="1.3" fill="#2a2a2a" />
<circle cx="308" cy="162.5" r="1.3" fill="#2a2a2a" />
<circle cx="308" cy="167.7" r="1.3" fill="#2a2a2a" />
<circle cx="308" cy="172.89999999999998" r="1.3" fill="#2a2a2a" />
<circle cx="454" cy="162.5" r="1.3" fill="#2a2a2a" />
<circle cx="454" cy="167.7" r="1.3" fill="#2a2a2a" />
<circle cx="454" cy="172.89999999999998" r="1.3" fill="#2a2a2a" />
<circle cx="552.7" cy="162.5" r="1.3" fill="#2a2a2a" />
<circle cx="552.7" cy="167.7" r="1.3" fill="#2a2a2a" />
<circle cx="552.7" cy="172.89999999999998" r="1.3" fill="#2a2a2a" />
<circle cx="698.3" cy="162.5" r="1.3" fill="#2a2a2a" />
<circle cx="698.3" cy="167.7" r="1.3" fill="#2a2a2a" />
<circle cx="698.3" cy="172.89999999999998" r="1.3" fill="#2a2a2a" />
<circle cx="731.4" cy="162.5" r="1.3" fill="#2a2a2a" />
<circle cx="731.4" cy="167.7" r="1.3" fill="#2a2a2a" />
<circle cx="731.4" cy="172.89999999999998" r="1.3" fill="#2a2a2a" />
<circle cx="485.5" cy="174.4" r="1.2" fill="#2a2a2a" />
<circle cx="485.5" cy="179.0" r="1.2" fill="#2a2a2a" />
<circle cx="485.5" cy="183.6" r="1.2" fill="#2a2a2a" />
<circle cx="522.2" cy="174.4" r="1.2" fill="#2a2a2a" />
<circle cx="522.2" cy="179.0" r="1.2" fill="#2a2a2a" />
<circle cx="522.2" cy="183.6" r="1.2" fill="#2a2a2a" />
<text x="245" y="63.8" font-family='"Liberation Serif", serif' font-style="italic" font-size="19" fill="#333" textLength="55" lengthAdjust="spacingAndGlyphs" stroke="#333" stroke-width="0.3">m × m</text>
<text x="715.8" y="60.7" font-family='"Liberation Serif", serif' font-style="italic" font-size="19" fill="#333" textLength="46" lengthAdjust="spacingAndGlyphs" stroke="#333" stroke-width="0.3">n × n</text>
<text x="343.7" y="71" font-family='"Liberation Serif", serif' font-style="italic" font-size="19" fill="#444" stroke="#444" stroke-width="0.3">U</text>
<text x="358" y="61" font-family='"Liberation Serif", serif' font-style="italic" font-size="13" fill="#444" stroke="#444" stroke-width="0.3">l</text>
<text x="357" y="77" font-family='"Liberation Serif", serif' font-style="italic" font-size="14" fill="#444" textLength="53" lengthAdjust="spacingAndGlyphs" stroke="#444" stroke-width="0.3">unitary</text>
<text x="479" y="72" font-family='"Liberation Serif", serif' font-style="italic" font-size="18" fill="#444" textLength="44" lengthAdjust="spacingAndGlyphs" stroke="#444" stroke-width="0.3">Diag.</text>
<text x="525" y="63" font-family='"Liberation Serif", serif' font-style="italic" font-size="12" fill="#444" stroke="#444" stroke-width="0.3">l</text>
<text x="587" y="72" font-family='"Liberation Serif", serif' font-style="italic" font-size="19" fill="#444" stroke="#444" stroke-width="0.3">V</text>
<text x="601" y="62" font-family='"Liberation Serif", serif' font-style="italic" font-size="13" fill="#444" stroke="#444" stroke-width="0.3">l</text>
<text x="599" y="77.5" font-family='"Liberation Serif", serif' font-style="italic" font-size="14" fill="#444" textLength="52" lengthAdjust="spacingAndGlyphs" stroke="#444" stroke-width="0.3">unitary</text>
<text x="207.6" y="171.5" font-family='"Liberation Serif", serif' font-style="italic" font-weight="bold" font-size="25" fill="#26303c" textLength="17" lengthAdjust="spacingAndGlyphs" stroke="#26303c" stroke-width="0.3">w</text>
<text x="226.5" y="162.5" font-family='"Liberation Serif", serif' font-style="italic" font-weight="bold" font-size="15" fill="#26303c" stroke="#26303c" stroke-width="0.3">l</text>
<text x="223" y="176" font-family='"Liberation Serif", serif' font-style="italic" font-weight="bold" font-size="19.5" fill="#26303c" textLength="32" lengthAdjust="spacingAndGlyphs" stroke="#26303c" stroke-width="0.3">enc.</text>
<text x="754.5" y="170.6" font-family='"Liberation Serif", serif' font-style="italic" font-weight="bold" font-size="25" fill="#26303c" textLength="17" lengthAdjust="spacingAndGlyphs" stroke="#26303c" stroke-width="0.3">w</text>
<text x="774" y="161.5" font-family='"Liberation Serif", serif' font-style="italic" font-weight="bold" font-size="15" fill="#26303c" stroke="#26303c" stroke-width="0.3">l</text>
<text x="771" y="175.5" font-family='"Liberation Serif", serif' font-style="italic" font-weight="bold" font-size="19.5" fill="#26303c" textLength="33" lengthAdjust="spacingAndGlyphs" stroke="#26303c" stroke-width="0.3">dec.</text>
<rect x="346" y="146" width="64" height="20" rx="8" fill="#ede3f1" opacity="0.8"/>
<rect x="592" y="145" width="64" height="20" rx="8" fill="#ede3f1" opacity="0.8"/>
<text x="351" y="158" font-family='"Liberation Serif", serif' font-style="italic" font-size="17" fill="#444" textLength="11" lengthAdjust="spacingAndGlyphs" stroke="#444" stroke-width="0.3">w</text>
<text x="363" y="151" font-family='"Liberation Serif", serif' font-style="italic" font-size="11" fill="#444" stroke="#444" stroke-width="0.3">l</text>
<text x="362" y="162" font-family='"Liberation Serif", serif' font-style="italic" font-size="12" fill="#444" textLength="42" lengthAdjust="spacingAndGlyphs" stroke="#444" stroke-width="0.3">emb.−U</text>
<text x="476" y="160" font-family='"Liberation Serif", serif' font-style="italic" font-size="17" fill="#444" textLength="11" lengthAdjust="spacingAndGlyphs" stroke="#444" stroke-width="0.3">w</text>
<text x="488" y="153" font-family='"Liberation Serif", serif' font-style="italic" font-size="11" fill="#444" stroke="#444" stroke-width="0.3">l</text>
<text x="487" y="164" font-family='"Liberation Serif", serif' font-style="italic" font-size="12" fill="#444" textLength="42" lengthAdjust="spacingAndGlyphs" stroke="#444" stroke-width="0.3">emb.−D</text>
<text x="597.5" y="157" font-family='"Liberation Serif", serif' font-style="italic" font-size="17" fill="#444" textLength="11" lengthAdjust="spacingAndGlyphs" stroke="#444" stroke-width="0.3">w</text>
<text x="609.5" y="150" font-family='"Liberation Serif", serif' font-style="italic" font-size="11" fill="#444" stroke="#444" stroke-width="0.3">l</text>
<text x="608.5" y="161" font-family='"Liberation Serif", serif' font-style="italic" font-size="12" fill="#444" textLength="42" lengthAdjust="spacingAndGlyphs" stroke="#444" stroke-width="0.3">emb.−V</text>
<text x="359.7" y="31.3" font-family='"Liberation Sans", sans-serif' font-size="20" fill="#333" textLength="290" lengthAdjust="spacingAndGlyphs" stroke="#333" stroke-width="0.3"><tspan font-style="italic">Execution Unit for </tspan><tspan font-style="italic" font-weight="bold" fill="#222">Taichi (TEU)</tspan></text>
<text x="69.6" y="123.5" font-family='"Liberation Sans", sans-serif' font-size="14" text-anchor="start" fill="#3a3a3a" font-weight="normal" font-style="normal" textLength="32.4" lengthAdjust="spacingAndGlyphs"  stroke="#3a3a3a" stroke-width="0.3">From</text>
<text x="70" y="142" font-family='"Liberation Sans", sans-serif' font-size="14" text-anchor="start" fill="#3a3a3a" font-weight="normal" font-style="normal" textLength="32.5" lengthAdjust="spacingAndGlyphs"  stroke="#3a3a3a" stroke-width="0.3">Prev.</text>
<text x="73.7" y="179.5" font-family='"Liberation Sans", sans-serif' font-size="14" text-anchor="start" fill="#1a1a1a" font-weight="bold" font-style="italic" textLength="25.2" lengthAdjust="spacingAndGlyphs"  stroke="#1a1a1a" stroke-width="0.3">TEU</text>
<text x="915" y="121.9" font-family='"Liberation Sans", sans-serif' font-size="14" text-anchor="start" fill="#3a3a3a" font-weight="normal" font-style="normal" textLength="16" lengthAdjust="spacingAndGlyphs"  stroke="#3a3a3a" stroke-width="0.3">To</text>
<text x="908.5" y="139.5" font-family='"Liberation Sans", sans-serif' font-size="14" text-anchor="start" fill="#3a3a3a" font-weight="normal" font-style="normal" textLength="29" lengthAdjust="spacingAndGlyphs"  stroke="#3a3a3a" stroke-width="0.3">Next</text>
<text x="911" y="177.4" font-family='"Liberation Sans", sans-serif' font-size="14" text-anchor="start" fill="#1a1a1a" font-weight="bold" font-style="italic" textLength="25" lengthAdjust="spacingAndGlyphs"  stroke="#1a1a1a" stroke-width="0.3">TEU</text>
<line x1="20" y1="156.3" x2="105.5" y2="156.3" stroke="#ed7d31" stroke-width="3" />
<polygon points="116,156.3 101.0,160.8 104.75,156.3 101.0,151.8" fill="#ed7d31" />
<line x1="891" y1="153.8" x2="970.5" y2="153.8" stroke="#ed7d31" stroke-width="3" />
<polygon points="981,153.8 966.0,158.3 969.75,153.8 966.0,149.3" fill="#ed7d31" />
<circle cx="2" cy="156.3" r="1.3" fill="#333" />
<circle cx="988" cy="153.8" r="1.3" fill="#333" />
<circle cx="7" cy="156.3" r="1.3" fill="#333" />
<circle cx="993" cy="153.8" r="1.3" fill="#333" />
<circle cx="12" cy="156.3" r="1.3" fill="#333" />
<circle cx="998" cy="153.8" r="1.3" fill="#333" />
<text x="390" y="247" font-family='"Liberation Sans", sans-serif' font-size="18" fill="#333" textLength="228" lengthAdjust="spacingAndGlyphs" stroke="#333" stroke-width="0.3">Interference Embedding (<tspan font-weight="bold" font-style="italic">IE.</tspan>)</text>
<text x="344" y="282.3" font-family='"Liberation Serif", serif' font-style="italic" font-size="20" fill="#2a2a2a" textLength="14" lengthAdjust="spacingAndGlyphs" stroke="#2a2a2a" stroke-width="0.3">w</text>
<text x="359" y="275.3" font-family='"Liberation Serif", serif' font-style="italic" font-size="14" fill="#2a2a2a" stroke="#2a2a2a" stroke-width="0.3">l</text>
<text x="358" y="288.0" font-family='"Liberation Serif", serif' font-style="italic" font-size="14" fill="#2a2a2a" textLength="33" lengthAdjust="spacingAndGlyphs" stroke="#2a2a2a" stroke-width="0.3">emb.</text>
<text x="396" y="284" font-family='"Liberation Serif", serif' font-size="21" fill="#2a2a2a" textLength="16" lengthAdjust="spacingAndGlyphs" stroke="#2a2a2a" stroke-width="0.3">=</text>
<text x="420.3" y="282.3" font-family='"Liberation Serif", serif' font-style="italic" font-size="20" fill="#2a2a2a" textLength="14" lengthAdjust="spacingAndGlyphs" stroke="#2a2a2a" stroke-width="0.3">w</text>
<text x="435.3" y="275.3" font-family='"Liberation Serif", serif' font-style="italic" font-size="14" fill="#2a2a2a" stroke="#2a2a2a" stroke-width="0.3">l</text>
<text x="434.3" y="288.0" font-family='"Liberation Serif", serif' font-style="italic" font-size="14" fill="#2a2a2a" textLength="52" lengthAdjust="spacingAndGlyphs" stroke="#2a2a2a" stroke-width="0.3">emb.−U</text>
<text x="494" y="288" font-family='"Liberation Serif", serif' font-size="18" fill="#2a2a2a" stroke="#2a2a2a" stroke-width="0.3">*</text>
<text x="506.8" y="282.3" font-family='"Liberation Serif", serif' font-style="italic" font-size="20" fill="#2a2a2a" textLength="14" lengthAdjust="spacingAndGlyphs" stroke="#2a2a2a" stroke-width="0.3">w</text>
<text x="521.8" y="275.3" font-family='"Liberation Serif", serif' font-style="italic" font-size="14" fill="#2a2a2a" stroke="#2a2a2a" stroke-width="0.3">l</text>
<text x="520.8" y="288.0" font-family='"Liberation Serif", serif' font-style="italic" font-size="14" fill="#2a2a2a" textLength="52" lengthAdjust="spacingAndGlyphs" stroke="#2a2a2a" stroke-width="0.3">emb.−D</text>
<text x="580" y="288" font-family='"Liberation Serif", serif' font-size="18" fill="#2a2a2a" stroke="#2a2a2a" stroke-width="0.3">*</text>
<text x="592.5" y="282.3" font-family='"Liberation Serif", serif' font-style="italic" font-size="20" fill="#2a2a2a" textLength="14" lengthAdjust="spacingAndGlyphs" stroke="#2a2a2a" stroke-width="0.3">w</text>
<text x="607.5" y="275.3" font-family='"Liberation Serif", serif' font-style="italic" font-size="14" fill="#2a2a2a" stroke="#2a2a2a" stroke-width="0.3">l</text>
<text x="606.5" y="288.0" font-family='"Liberation Serif", serif' font-style="italic" font-size="14" fill="#2a2a2a" textLength="52" lengthAdjust="spacingAndGlyphs" stroke="#2a2a2a" stroke-width="0.3">emb.−V</text>
<text transform="translate(136.5,285) rotate(-14)" font-family='"Liberation Sans", sans-serif' font-size="17.5" fill="#2e2e2e" textLength="149" lengthAdjust="spacingAndGlyphs" stroke="#2e2e2e" stroke-width="0.3">Diffractive Encoder</text>
<text transform="translate(197,297.5) rotate(-14)" font-family='"Liberation Sans", sans-serif' font-size="17.5" fill="#2e2e2e" textLength="38" lengthAdjust="spacingAndGlyphs" stroke="#2e2e2e" stroke-width="0.3">(<tspan font-weight="bold">DE.</tspan>)</text>
<text transform="translate(728,249.5) rotate(13.8)" font-family='"Liberation Sans", sans-serif' font-size="17.5" fill="#2e2e2e" textLength="150" lengthAdjust="spacingAndGlyphs" stroke="#2e2e2e" stroke-width="0.3">Diffractive Decoder</text>
<text transform="translate(777,287) rotate(13.8)" font-family='"Liberation Sans", sans-serif' font-size="17.5" fill="#2e2e2e" textLength="39" lengthAdjust="spacingAndGlyphs" stroke="#2e2e2e" stroke-width="0.3">(<tspan font-weight="bold" font-style="italic">DD.</tspan>)</text>
</g>
<g id="panelB">
<text x="19.8" y="362.3" font-family='"Liberation Sans", sans-serif' font-size="21" text-anchor="start" fill="#111" font-weight="bold" font-style="normal" textLength="11.4" lengthAdjust="spacingAndGlyphs"  stroke="#111" stroke-width="0.3">B</text>
<rect x="235" y="353.5" width="532" height="254" rx="26" fill="#fdf1ec" filter="url(#soft)"/>
<rect x="242.5" y="361" width="229.5" height="198" rx="14" fill="#fefcee" filter="url(#soft2)"/>
<rect x="487" y="499" width="103.5" height="72" rx="10" fill="#fefcee" filter="url(#soft2)"/>
<rect x="650" y="522" width="101.5" height="70" rx="10" fill="#fefcee" filter="url(#soft2)"/>
<text x="72.5" y="405" font-family='"Liberation Sans", sans-serif' font-size="16.5" fill="#333" textLength="126.5" lengthAdjust="spacingAndGlyphs" stroke="#333" stroke-width="0.3">Input (<tspan font-style="italic">512x512</tspan>)</text>
<text x="794.8" y="406" font-family='"Liberation Sans", sans-serif' font-size="16.5" fill="#333" textLength="146" lengthAdjust="spacingAndGlyphs" stroke="#333" stroke-width="0.3">Outputs (<tspan font-style="italic">256x256</tspan>)</text>
<defs>
<linearGradient id="sky" x1="0" y1="0" x2="0" y2="1">
<stop offset="0" stop-color="#7f93c6"/>
<stop offset="0.18" stop-color="#8ea0cc"/>
<stop offset="0.35" stop-color="#8f8fc6"/>
<stop offset="0.55" stop-color="#b592cc"/>
<stop offset="0.72" stop-color="#c79ad0"/>
<stop offset="1" stop-color="#c79ad0"/>
</linearGradient>
<linearGradient id="water" x1="0" y1="0" x2="0" y2="1">
<stop offset="0" stop-color="#8b86c8"/>
<stop offset="1" stop-color="#6d74c0"/>
</linearGradient>
<radialGradient id="cloud1" cx="0.5" cy="0.5" r="0.5"><stop offset="0" stop-color="#b6c3dc" stop-opacity="0.8"/><stop offset="1" stop-color="#b6c3dc" stop-opacity="0"/></radialGradient>
<radialGradient id="cloud2" cx="0.5" cy="0.5" r="0.5"><stop offset="0" stop-color="#6e7cb4" stop-opacity="0.7"/><stop offset="1" stop-color="#6e7cb4" stop-opacity="0"/></radialGradient>
<radialGradient id="pinkc" cx="0.5" cy="0.5" r="0.5"><stop offset="0" stop-color="#d08ac8" stop-opacity="0.7"/><stop offset="1" stop-color="#d08ac8" stop-opacity="0"/></radialGradient>
<clipPath id="imgclip"><rect x="50.5" y="421.3" width="170" height="170"/></clipPath>
<filter id="bl1"><feGaussianBlur stdDeviation="0.8"/></filter>
<filter id="bl2"><feGaussianBlur stdDeviation="1.6"/></filter>
</defs>
<g clip-path="url(#imgclip)">
<rect x="50.5" y="421.3" width="170" height="170" fill="url(#sky)" />
<ellipse cx="130" cy="440" rx="70" ry="18" fill="url(#cloud1)"/>
<ellipse cx="90" cy="470" rx="45" ry="15" fill="url(#cloud2)"/>
<ellipse cx="75" cy="455" rx="30" ry="14" fill="url(#cloud2)"/>
<ellipse cx="150" cy="462" rx="40" ry="8" fill="url(#cloud2)" opacity="0.6"/>
<ellipse cx="170" cy="480" rx="50" ry="14" fill="url(#cloud1)" opacity="0.6"/>
<ellipse cx="80" cy="510" rx="40" ry="14" fill="url(#pinkc)"/>
<ellipse cx="180" cy="520" rx="45" ry="14" fill="url(#pinkc)"/>
<rect x="50" y="538" width="60" height="13" fill="#8e9ea8" opacity="0.9" filter="url(#bl1)"/>
<rect x="50.5" y="553" width="170" height="40" fill="url(#water)" />
<path d="M125 551 L221 549 L221 560 L125 561 Z" fill="#b7a78c" filter="url(#bl1)"/>
<rect x="80" y="551.5" width="52" height="9" fill="#3e3440" filter="url(#bl1)"/>
<g filter="url(#bl1)"><ellipse cx="170" cy="535" rx="14" ry="17" fill="#34492f"/><ellipse cx="190" cy="537" rx="14" ry="14" fill="#41593a"/><ellipse cx="205" cy="532" rx="9" ry="16" fill="#324a30"/><rect x="158" y="535" width="55" height="16" fill="#3a5236"/></g>
<rect x="206" y="523" width="15" height="12" fill="#e8e6ee" filter="url(#bl1)"/>
<g filter="url(#bl1)"><path d="M130.5 529 L140 523 L156 523 L156 542 L130.5 542 Z" fill="#f0eef2"/><rect x="130.5" y="541" width="26" height="10" fill="#8a4a4e"/><rect x="153" y="518" width="4" height="8" fill="#8a3550"/><rect x="134" y="531" width="4" height="3" fill="#666"/><rect x="146" y="531" width="3" height="3" fill="#777"/></g>
<g filter="url(#bl1)"><path d="M105.5 472 L117 472 L122.5 551 L100 551 Z" fill="#f2f0f6"/><rect x="106" y="463" width="11" height="10" fill="#5a3c6a"/><path d="M107 463 L111.5 458 L116 463Z" fill="#6a4070"/><rect x="110.5" y="480" width="2" height="5" fill="#555"/><rect x="110.5" y="494" width="2" height="5" fill="#555"/><rect x="110.5" y="508" width="2" height="5" fill="#555"/><rect x="110.5" y="522" width="2" height="5" fill="#555"/><rect x="110.5" y="536" width="2" height="5" fill="#555"/></g>
<rect x="100" y="472" width="6" height="79" fill="#c8c4d8" opacity="0.5" filter="url(#bl1)"/>
<rect x="91.2" y="576.3" width="3.5" height="1" fill="#7078c4" opacity="0.7"/>
<rect x="156.7" y="562.0" width="2.1" height="1" fill="#7078c4" opacity="0.7"/>
<rect x="94.8" y="567.0" width="6.0" height="1" fill="#7078c4" opacity="0.7"/>
<rect x="142.4" y="576.5" width="3.6" height="1" fill="#5e66b4" opacity="0.7"/>
<rect x="90.2" y="564.5" width="5.7" height="1" fill="#7078c4" opacity="0.7"/>
<rect x="176.3" y="580.1" width="2.3" height="1" fill="#9a96d4" opacity="0.7"/>
<rect x="101.9" y="560.9" width="5.5" height="1" fill="#7078c4" opacity="0.7"/>
<rect x="151.5" y="587.6" width="3.6" height="1" fill="#7078c4" opacity="0.7"/>
<rect x="117.7" y="584.0" width="3.8" height="1" fill="#5e66b4" opacity="0.7"/>
<rect x="199.5" y="562.9" width="2.5" height="1" fill="#5e66b4" opacity="0.7"/>
<rect x="94.6" y="580.2" width="5.1" height="1" fill="#a49ad8" opacity="0.7"/>
<rect x="122.2" y="585.0" width="4.3" height="1" fill="#7078c4" opacity="0.7"/>
<rect x="149.7" y="587.1" width="4.7" height="1" fill="#9a96d4" opacity="0.7"/>
<rect x="195.7" y="589.7" width="4.7" height="1" fill="#5e66b4" opacity="0.7"/>
<rect x="169.1" y="569.8" width="4.2" height="1" fill="#9a96d4" opacity="0.7"/>
<rect x="171.6" y="566.3" width="5.3" height="1" fill="#a49ad8" opacity="0.7"/>
<rect x="99.2" y="561.9" width="5.4" height="1" fill="#7078c4" opacity="0.7"/>
<rect x="66.0" y="584.0" width="3.6" height="1" fill="#5e66b4" opacity="0.7"/>
<rect x="54.4" y="572.8" width="3.7" height="1" fill="#9a96d4" opacity="0.7"/>
<rect x="58.5" y="578.4" width="2.2" height="1" fill="#a49ad8" opacity="0.7"/>
<rect x="144.1" y="587.7" width="3.1" height="1" fill="#5e66b4" opacity="0.7"/>
<rect x="219.7" y="569.3" width="2.3" height="1" fill="#9a96d4" opacity="0.7"/>
<rect x="211.4" y="589.1" width="3.2" height="1" fill="#a49ad8" opacity="0.7"/>
<rect x="77.4" y="561.3" width="5.5" height="1" fill="#a49ad8" opacity="0.7"/>
<rect x="111.9" y="564.1" width="5.4" height="1" fill="#7078c4" opacity="0.7"/>
<rect x="128.8" y="575.6" width="4.6" height="1" fill="#9a96d4" opacity="0.7"/>
<rect x="155.8" y="588.2" width="4.0" height="1" fill="#7078c4" opacity="0.7"/>
<rect x="158.2" y="581.5" width="5.7" height="1" fill="#7078c4" opacity="0.7"/>
<rect x="216.2" y="575.6" width="4.2" height="1" fill="#9a96d4" opacity="0.7"/>
<rect x="184.2" y="589.6" width="3.3" height="1" fill="#7078c4" opacity="0.7"/>
<rect x="155.1" y="579.0" width="2.2" height="1" fill="#a49ad8" opacity="0.7"/>
<rect x="129.8" y="580.4" width="3.4" height="1" fill="#a49ad8" opacity="0.7"/>
<rect x="175.7" y="560.7" width="2.2" height="1" fill="#9a96d4" opacity="0.7"/>
<rect x="213.8" y="567.5" width="3.8" height="1" fill="#a49ad8" opacity="0.7"/>
<rect x="81.0" y="565.6" width="5.0" height="1" fill="#a49ad8" opacity="0.7"/>
<rect x="101.8" y="571.3" width="5.1" height="1" fill="#9a96d4" opacity="0.7"/>
<rect x="215.2" y="580.5" width="2.5" height="1" fill="#5e66b4" opacity="0.7"/>
<rect x="161.5" y="568.1" width="3.3" height="1" fill="#7078c4" opacity="0.7"/>
<rect x="160.8" y="562.9" width="4.4" height="1" fill="#a49ad8" opacity="0.7"/>
<rect x="165.1" y="566.7" width="5.2" height="1" fill="#5e66b4" opacity="0.7"/>
<rect x="64.5" y="582.3" width="2.9" height="1" fill="#7078c4" opacity="0.7"/>
<rect x="96.7" y="583.6" width="2.1" height="1" fill="#5e66b4" opacity="0.7"/>
<rect x="104.3" y="585.1" width="4.3" height="1" fill="#a49ad8" opacity="0.7"/>
<rect x="108.5" y="584.8" width="2.3" height="1" fill="#a49ad8" opacity="0.7"/>
<rect x="150.6" y="572.6" width="4.1" height="1" fill="#a49ad8" opacity="0.7"/>
<rect x="129.5" y="579.0" width="3.2" height="1" fill="#7078c4" opacity="0.7"/>
<rect x="57.0" y="572.4" width="2.8" height="1" fill="#7078c4" opacity="0.7"/>
<rect x="210.4" y="586.4" width="5.9" height="1" fill="#7078c4" opacity="0.7"/>
<rect x="145.4" y="589.6" width="4.9" height="1" fill="#9a96d4" opacity="0.7"/>
<rect x="177.0" y="585.1" width="4.7" height="1" fill="#a49ad8" opacity="0.7"/>
<rect x="142.9" y="586.7" width="5.4" height="1" fill="#a49ad8" opacity="0.7"/>
<rect x="71.3" y="567.3" width="2.1" height="1" fill="#5e66b4" opacity="0.7"/>
<rect x="202.5" y="587.0" width="4.3" height="1" fill="#9a96d4" opacity="0.7"/>
<rect x="132.3" y="563.6" width="4.0" height="1" fill="#5e66b4" opacity="0.7"/>
<rect x="163.0" y="575.7" width="3.7" height="1" fill="#9a96d4" opacity="0.7"/>
<rect x="108.7" y="567.6" width="5.4" height="1" fill="#7078c4" opacity="0.7"/>
<rect x="188.2" y="561.8" width="2.9" height="1" fill="#9a96d4" opacity="0.7"/>
<rect x="141.4" y="584.5" width="2.7" height="1" fill="#a49ad8" opacity="0.7"/>
<rect x="206.8" y="584.2" width="5.3" height="1" fill="#9a96d4" opacity="0.7"/>
<rect x="133.4" y="577.1" width="3.6" height="1" fill="#a49ad8" opacity="0.7"/>
<rect x="93.0" y="578.5" width="4.1" height="1" fill="#9a96d4" opacity="0.7"/>
<rect x="130.9" y="583.3" width="2.0" height="1" fill="#9a96d4" opacity="0.7"/>
<rect x="182.0" y="561.4" width="2.2" height="1" fill="#7078c4" opacity="0.7"/>
<rect x="215.7" y="585.6" width="2.3" height="1" fill="#7078c4" opacity="0.7"/>
<rect x="104.4" y="569.4" width="3.4" height="1" fill="#7078c4" opacity="0.7"/>
<rect x="150.1" y="570.8" width="2.8" height="1" fill="#a49ad8" opacity="0.7"/>
<rect x="123.5" y="563.8" width="2.0" height="1" fill="#7078c4" opacity="0.7"/>
<rect x="185.4" y="577.0" width="2.2" height="1" fill="#7078c4" opacity="0.7"/>
<rect x="153.1" y="583.5" width="3.5" height="1" fill="#9a96d4" opacity="0.7"/>
<rect x="156.3" y="572.9" width="3.5" height="1" fill="#7078c4" opacity="0.7"/>
<rect x="179.4" y="569.4" width="5.8" height="1" fill="#7078c4" opacity="0.7"/>
<rect x="128.9" y="567.4" width="4.1" height="1" fill="#9a96d4" opacity="0.7"/>
<rect x="186.7" y="566.7" width="2.5" height="1" fill="#9a96d4" opacity="0.7"/>
<rect x="209.3" y="571.2" width="5.6" height="1" fill="#a49ad8" opacity="0.7"/>
<rect x="71.5" y="580.7" width="5.8" height="1" fill="#7078c4" opacity="0.7"/>
<rect x="163.8" y="582.0" width="4.3" height="1" fill="#9a96d4" opacity="0.7"/>
<rect x="188.2" y="581.5" width="3.9" height="1" fill="#5e66b4" opacity="0.7"/>
<rect x="181.9" y="561.3" width="2.4" height="1" fill="#9a96d4" opacity="0.7"/>
<rect x="162.4" y="571.3" width="5.3" height="1" fill="#a49ad8" opacity="0.7"/>
<rect x="193.2" y="563.6" width="5.4" height="1" fill="#7078c4" opacity="0.7"/>
<rect x="192.3" y="588.6" width="4.3" height="1" fill="#9a96d4" opacity="0.7"/>
<rect x="57.1" y="583.0" width="4.0" height="1" fill="#5e66b4" opacity="0.7"/>
<rect x="69.0" y="582.5" width="5.7" height="1" fill="#9a96d4" opacity="0.7"/>
<rect x="144.0" y="586.1" width="2.7" height="1" fill="#9a96d4" opacity="0.7"/>
<rect x="91.9" y="565.4" width="3.0" height="1" fill="#7078c4" opacity="0.7"/>
<rect x="93.7" y="578.0" width="5.8" height="1" fill="#7078c4" opacity="0.7"/>
<rect x="214.3" y="571.3" width="2.9" height="1" fill="#7078c4" opacity="0.7"/>
<rect x="193.6" y="589.0" width="3.7" height="1" fill="#7078c4" opacity="0.7"/>
<rect x="77.4" y="572.0" width="5.6" height="1" fill="#5e66b4" opacity="0.7"/>
<rect x="67.2" y="582.4" width="5.7" height="1" fill="#7078c4" opacity="0.7"/>
<g filter="url(#soft1)"><path d="M198 434 L66 434 Q60 434 60 441 Q60 448.3 66 448.3 L200 448.3" fill="none" stroke="#f2702c" stroke-width="2"/><path d="M204.3 450 L204.3 463.6" stroke="#f2702c" stroke-width="2"/><path d="M151 463.6 L200 463.6" stroke="#f2702c" stroke-width="2"/><path d="M201 460 L204.3 465 L207.6 460" fill="#f2702c"/><path d="M64 437 L58 441 L64 445" fill="#f2702c"/></g>
<rect x="199" y="429.4" width="12.5" height="11.7" fill="#ffffff"/>
<text x="75" y="579" font-family='"Liberation Sans", sans-serif' font-size="12" fill="#ee7a40" filter="url(#bl1)" textLength="119" lengthAdjust="spacingAndGlyphs" stroke="#ee7a40" stroke-width="0.3">Scanning with striding</text>
</g>
<rect x="50.5" y="421.3" width="170" height="170" fill="none" stroke="#4b5577" stroke-width="1"/>
<circle cx="4" cy="506.8" r="1.3" fill="#333" />
<circle cx="9" cy="506.8" r="1.3" fill="#333" />
<circle cx="14" cy="506.8" r="1.3" fill="#333" />
<line x1="21" y1="506.8" x2="40.6" y2="506.8" stroke="#ed7d31" stroke-width="2.6" />
<polygon points="49,506.8 37.0,511.0 40.0,506.8 37.0,502.6" fill="#ed7d31" />
<line x1="221" y1="448.6" x2="260.5" y2="448.6" stroke="#ed7d31" stroke-width="1.6" />
<line x1="260.5" y1="393.4" x2="260.5" y2="503.5" stroke="#ed7d31" stroke-width="1.6" />
<line x1="260.5" y1="393.5" x2="269.8" y2="393.5" stroke="#ed7d31" stroke-width="1.6" />
<polygon points="274,393.5 268.0,396.8 269.5,393.5 268.0,390.2" fill="#ed7d31" />
<line x1="260.5" y1="426" x2="269.8" y2="426.0" stroke="#ed7d31" stroke-width="1.6" />
<polygon points="274,426 268.0,429.3 269.5,426.0 268.0,422.7" fill="#ed7d31" />
<line x1="260.5" y1="459" x2="269.8" y2="459.0" stroke="#ed7d31" stroke-width="1.6" />
<polygon points="274,459 268.0,462.3 269.5,459.0 268.0,455.7" fill="#ed7d31" />
<line x1="260.5" y1="503.5" x2="269.8" y2="503.5" stroke="#ed7d31" stroke-width="1.6" />
<polygon points="274,503.5 268.0,506.8 269.5,503.5 268.0,500.2" fill="#ed7d31" />
<polygon points="274,379.5 308.5,385.5 308.5,401.5 274,407.5" fill="#c9dcf1" />
<polygon points="274,412 308.5,418 308.5,434 274,440" fill="#c9dcf1" />
<polygon points="274,445 308.5,451 308.5,467 274,473" fill="#c9dcf1" />
<polygon points="274,489.5 308.5,495.5 308.5,511.5 274,517.5" fill="#c9dcf1" />
<polygon points="326.5,398.0 359.5,404.0 359.5,421.0 326.5,427.0" fill="#c9dcf1" />
<rect x="371.5" y="402.5" width="27" height="20" rx="3" fill="#ece0f0"/>
<polygon points="409,404.0 442,398.0 442,427.0 409,421.0" fill="#c9dcf1" />
<polygon points="326.5,430.0 359.5,436.0 359.5,453.0 326.5,459.0" fill="#c9dcf1" />
<rect x="371.5" y="434.5" width="27" height="20" rx="3" fill="#ece0f0"/>
<polygon points="409,436.0 442,430.0 442,459.0 409,453.0" fill="#c9dcf1" />
<polygon points="326.5,474.5 359.5,480.5 359.5,497.5 326.5,503.5" fill="#c9dcf1" />
<rect x="371.5" y="479" width="27" height="20" rx="3" fill="#ece0f0"/>
<polygon points="409,480.5 442,474.5 442,503.5 409,497.5" fill="#c9dcf1" />
<line x1="308.5" y1="393.5" x2="323.62883485836875" y2="409.9255921319432" stroke="#ed7d31" stroke-width="1.2" />
<polygon points="326,412.5 320.5898721870536,410.68533279977197 323.4594659196808,409.74170585565344 324.63537026542855,406.95921614863715" fill="#ed7d31" />
<line x1="308.5" y1="393.5" x2="324.8640351233964" y2="441.1894737881837" stroke="#ed7d31" stroke-width="1.2" />
<polygon points="326,444.5 321.7760652955677,440.66322067187957 324.7828947750676,440.9530076301968 326.9783207712791,438.87813300864525" fill="#ed7d31" />
<line x1="308.5" y1="393.5" x2="325.3691431006019" y2="485.55732377757045" stroke="#ed7d31" stroke-width="1.2" />
<polygon points="326,489 322.39381596895095,484.5775643889134 325.32408189350207,485.3114183331112 327.80373574705453,483.58621783271644" fill="#ed7d31" />
<line x1="308.5" y1="426" x2="323.22876210552784" y2="414.6378120900214" stroke="#ed7d31" stroke-width="1.2" />
<polygon points="326,412.5 323.72079822148515,417.73141847425865 323.03081654163697,414.7905129535943 320.3613792228801,413.37661606865953" fill="#ed7d31" />
<line x1="308.5" y1="426" x2="323.59480051143373" y2="441.9573605406585" stroke="#ed7d31" stroke-width="1.2" />
<polygon points="326,444.5 320.5662125839941,442.75745751338565 323.42300054796465,441.7757434364198 324.561788877245,438.97785831706716" fill="#ed7d31" />
<line x1="308.5" y1="426" x2="325.06324647674865" y2="485.6276873162952" stroke="#ed7d31" stroke-width="1.2" />
<polygon points="326,489 322.01210642958716,484.918431077262 324.9963355108021,485.3868078388877 327.31145493255184,483.4463898264385" fill="#ed7d31" />
<line x1="308.5" y1="459" x2="324.7672087953166" y2="415.77570234387304" stroke="#ed7d31" stroke-width="1.2" />
<polygon points="326,412.5 326.8126358349239,418.1481964377842 324.67915228069637,416.0096810827211 321.66510358026636,416.2109531161388" fill="#ed7d31" />
<line x1="308.5" y1="459" x2="323.3049245368305" y2="446.73306252662616" stroke="#ed7d31" stroke-width="1.2" />
<polygon points="326,444.5 323.9044413235356,449.8076486162419 323.11241914660417,446.8925669928137 320.3953430674088,445.57253003126135" fill="#ed7d31" />
<line x1="308.5" y1="459" x2="324.2364514106657" y2="485.9767738468555" stroke="#ed7d31" stroke-width="1.2" />
<polygon points="326,489 321.10525289490886,486.0667508156991 324.1104836542847,485.7608291216309 325.8560368498503,483.2954601753166" fill="#ed7d31" />
<line x1="308.5" y1="503.5" x2="325.3390341222246" y2="415.93702256443225" stroke="#ed7d31" stroke-width="1.2" />
<polygon points="326,412.5 327.7562807609462,417.92936256744105 325.29182227381204,416.1825241761774 322.3552453025526,416.8907019023654" fill="#ed7d31" />
<line x1="308.5" y1="503.5" x2="325.00472268398636" y2="447.8555063797032" stroke="#ed7d31" stroke-width="1.2" />
<polygon points="326,444.5 327.2146445611759,450.0755841478724 324.9336314471282,448.09518540682484 321.9417059644994,448.51157693699383" fill="#ed7d31" />
<line x1="308.5" y1="503.5" x2="323.3049245368305" y2="491.23306252662616" stroke="#ed7d31" stroke-width="1.2" />
<polygon points="326,489 323.9044413235356,494.3076486162419 323.11241914660417,491.3925669928137 320.3953430674088,490.07253003126135" fill="#ed7d31" />
<line x1="361" y1="412.5" x2="366.5" y2="412.5" stroke="#ed7d31" stroke-width="1.5" />
<polygon points="370,412.5 365.0,415.25 366.25,412.5 365.0,409.75" fill="#ed7d31" />
<line x1="399" y1="412.5" x2="404.5" y2="412.5" stroke="#ed7d31" stroke-width="1.5" />
<polygon points="408,412.5 403.0,415.25 404.25,412.5 403.0,409.75" fill="#ed7d31" />
<line x1="442" y1="412.5" x2="457" y2="412.5" stroke="#ed7d31" stroke-width="1.6" />
<line x1="361" y1="444.5" x2="366.5" y2="444.5" stroke="#ed7d31" stroke-width="1.5" />
<polygon points="370,444.5 365.0,447.25 366.25,444.5 365.0,441.75" fill="#ed7d31" />
<line x1="399" y1="444.5" x2="404.5" y2="444.5" stroke="#ed7d31" stroke-width="1.5" />
<polygon points="408,444.5 403.0,447.25 404.25,444.5 403.0,441.75" fill="#ed7d31" />
<line x1="442" y1="444.5" x2="457" y2="444.5" stroke="#ed7d31" stroke-width="1.6" />
<line x1="361" y1="489" x2="366.5" y2="489.0" stroke="#ed7d31" stroke-width="1.5" />
<polygon points="370,489 365.0,491.75 366.25,489.0 365.0,486.25" fill="#ed7d31" />
<line x1="399" y1="489" x2="404.5" y2="489.0" stroke="#ed7d31" stroke-width="1.5" />
<polygon points="408,489 403.0,491.75 404.25,489.0 403.0,486.25" fill="#ed7d31" />
<line x1="442" y1="489" x2="457" y2="489" stroke="#ed7d31" stroke-width="1.6" />
<line x1="457" y1="412.5" x2="457" y2="489" stroke="#ed7d31" stroke-width="1.6" />
<text x="291.5" y="398.5" font-family='"Liberation Sans", sans-serif' font-size="13.5" text-anchor="middle" fill="#222" font-weight="bold" font-style="italic" textLength="23" lengthAdjust="spacingAndGlyphs"  stroke="#222" stroke-width="0.3">DE.</text>
<text x="291.5" y="431" font-family='"Liberation Sans", sans-serif' font-size="13.5" text-anchor="middle" fill="#222" font-weight="bold" font-style="italic" textLength="23" lengthAdjust="spacingAndGlyphs"  stroke="#222" stroke-width="0.3">DE.</text>
<text x="291.5" y="464" font-family='"Liberation Sans", sans-serif' font-size="13.5" text-anchor="middle" fill="#222" font-weight="bold" font-style="italic" textLength="23" lengthAdjust="spacingAndGlyphs"  stroke="#222" stroke-width="0.3">DE.</text>
<text x="291.5" y="508.5" font-family='"Liberation Sans", sans-serif' font-size="13.5" text-anchor="middle" fill="#222" font-weight="bold" font-style="italic" textLength="23" lengthAdjust="spacingAndGlyphs"  stroke="#222" stroke-width="0.3">DE.</text>
<text x="343" y="417.5" font-family='"Liberation Sans", sans-serif' font-size="13.5" text-anchor="middle" fill="#222" font-weight="bold" font-style="italic" textLength="23" lengthAdjust="spacingAndGlyphs"  stroke="#222" stroke-width="0.3">DE.</text>
<text x="385" y="417.5" font-family='"Liberation Sans", sans-serif' font-size="13.5" text-anchor="middle" fill="#222" font-weight="bold" font-style="italic" textLength="17" lengthAdjust="spacingAndGlyphs"  stroke="#222" stroke-width="0.3">IE.</text>
<text x="426" y="417.5" font-family='"Liberation Sans", sans-serif' font-size="13.5" text-anchor="middle" fill="#222" font-weight="bold" font-style="italic" textLength="24" lengthAdjust="spacingAndGlyphs"  stroke="#222" stroke-width="0.3">DD.</text>
<text x="343" y="449.5" font-family='"Liberation Sans", sans-serif' font-size="13.5" text-anchor="middle" fill="#222" font-weight="bold" font-style="italic" textLength="23" lengthAdjust="spacingAndGlyphs"  stroke="#222" stroke-width="0.3">DE.</text>
<text x="385" y="449.5" font-family='"Liberation Sans", sans-serif' font-size="13.5" text-anchor="middle" fill="#222" font-weight="bold" font-style="italic" textLength="17" lengthAdjust="spacingAndGlyphs"  stroke="#222" stroke-width="0.3">IE.</text>
<text x="426" y="449.5" font-family='"Liberation Sans", sans-serif' font-size="13.5" text-anchor="middle" fill="#222" font-weight="bold" font-style="italic" textLength="24" lengthAdjust="spacingAndGlyphs"  stroke="#222" stroke-width="0.3">DD.</text>
<text x="343" y="494" font-family='"Liberation Sans", sans-serif' font-size="13.5" text-anchor="middle" fill="#222" font-weight="bold" font-style="italic" textLength="23" lengthAdjust="spacingAndGlyphs"  stroke="#222" stroke-width="0.3">DE.</text>
<text x="385" y="494" font-family='"Liberation Sans", sans-serif' font-size="13.5" text-anchor="middle" fill="#222" font-weight="bold" font-style="italic" textLength="17" lengthAdjust="spacingAndGlyphs"  stroke="#222" stroke-width="0.3">IE.</text>
<text x="426" y="494" font-family='"Liberation Sans", sans-serif' font-size="13.5" text-anchor="middle" fill="#222" font-weight="bold" font-style="italic" textLength="24" lengthAdjust="spacingAndGlyphs"  stroke="#222" stroke-width="0.3">DD.</text>
<circle cx="290.5" cy="477.8" r="1.0" fill="#333" />
<circle cx="290.5" cy="481.0" r="1.0" fill="#333" />
<circle cx="290.5" cy="484.2" r="1.0" fill="#333" />
<circle cx="343" cy="463.3" r="1.0" fill="#333" />
<circle cx="343" cy="466.5" r="1.0" fill="#333" />
<circle cx="343" cy="469.7" r="1.0" fill="#333" />
<circle cx="385" cy="463.3" r="1.0" fill="#333" />
<circle cx="385" cy="466.5" r="1.0" fill="#333" />
<circle cx="385" cy="469.7" r="1.0" fill="#333" />
<circle cx="425" cy="463.3" r="1.0" fill="#333" />
<circle cx="425" cy="466.5" r="1.0" fill="#333" />
<circle cx="425" cy="469.7" r="1.0" fill="#333" />
<text x="357" y="390" font-family='"Liberation Sans", sans-serif' font-size="18" text-anchor="start" fill="#222" font-weight="bold" font-style="italic" textLength="55.5" lengthAdjust="spacingAndGlyphs"  stroke="#222" stroke-width="0.3">TEU - 1</text>
<text x="284.5" y="532" font-family='"Liberation Sans", sans-serif' font-size="12.5" text-anchor="middle" fill="#555" font-weight="normal" font-style="normal" textLength="38" lengthAdjust="spacingAndGlyphs"  stroke="#555" stroke-width="0.3">DE. set</text>
<text x="284.5" y="550" font-family='"Liberation Sans", sans-serif' font-size="14" text-anchor="middle" fill="#333" font-weight="normal" font-style="italic"  stroke="#333" stroke-width="0.3">x16</text>
<text x="338" y="532" font-family='"Liberation Sans", sans-serif' font-size="12.5" text-anchor="middle" fill="#555" font-weight="normal" font-style="normal" textLength="38" lengthAdjust="spacingAndGlyphs"  stroke="#555" stroke-width="0.3">DE. set</text>
<text x="338" y="550" font-family='"Liberation Sans", sans-serif' font-size="14" text-anchor="middle" fill="#333" font-weight="normal" font-style="italic"  stroke="#333" stroke-width="0.3">x4</text>
<text x="385" y="532" font-family='"Liberation Sans", sans-serif' font-size="12.5" text-anchor="middle" fill="#555" font-weight="normal" font-style="normal" textLength="32" lengthAdjust="spacingAndGlyphs"  stroke="#555" stroke-width="0.3">IE. set</text>
<text x="385" y="550" font-family='"Liberation Sans", sans-serif' font-size="14" text-anchor="middle" fill="#333" font-weight="normal" font-style="italic"  stroke="#333" stroke-width="0.3">x4</text>
<text x="433" y="532" font-family='"Liberation Sans", sans-serif' font-size="12.5" text-anchor="middle" fill="#555" font-weight="normal" font-style="normal" textLength="38" lengthAdjust="spacingAndGlyphs"  stroke="#555" stroke-width="0.3">DD. set</text>
<text x="433" y="550" font-family='"Liberation Sans", sans-serif' font-size="14" text-anchor="middle" fill="#333" font-weight="normal" font-style="italic"  stroke="#333" stroke-width="0.3">x4</text>
<text x="566" y="396" font-family='"Liberation Sans", sans-serif' font-size="21" text-anchor="start" fill="#222" font-weight="bold" font-style="italic" textLength="108.5" lengthAdjust="spacingAndGlyphs"  stroke="#222" stroke-width="0.3">TEU cluster</text>
<text x="553.7" y="441.5" font-family='"Liberation Sans", sans-serif' font-size="13.5" fill="#333" textLength="135" lengthAdjust="spacingAndGlyphs" stroke="#333" stroke-width="0.3">Multiplexing <tspan font-weight="bold" font-style="italic">TEU</tspan>s w/</text>
<text x="541.5" y="468.8" font-family='"Liberation Sans", sans-serif' font-size="13.5" text-anchor="start" fill="#333" font-weight="normal" font-style="normal" textLength="160" lengthAdjust="spacingAndGlyphs"  stroke="#333" stroke-width="0.3">Computation Distributing</text>
<line x1="457" y1="450.3" x2="774.7" y2="450.3" stroke="#ed7d31" stroke-width="1.8" />
<polygon points="781,450.3 772.0,455.25 774.25,450.3 772.0,445.35" fill="#ed7d31" />
<polygon points="470,450.3 465.0,453.05 466.25,450.3 465.0,447.55" fill="#ed7d31" />
<line x1="592" y1="502.7" x2="774.7" y2="502.7" stroke="#ed7d31" stroke-width="1.8" />
<polygon points="781,502.7 772.0,507.65 774.25,502.7 772.0,497.75" fill="#ed7d31" />
<line x1="753" y1="523.8" x2="774.7" y2="523.8" stroke="#ed7d31" stroke-width="1.8" />
<polygon points="781,523.8 772.0,528.75 774.25,523.8 772.0,518.8499999999999" fill="#ed7d31" />
<line x1="221" y1="569" x2="477.7" y2="569.0" stroke="#ed7d31" stroke-width="1.8" />
<polygon points="484,569 475.0,573.95 477.25,569.0 475.0,564.05" fill="#ed7d31" />
<line x1="221" y1="589" x2="640.7" y2="589.0" stroke="#ed7d31" stroke-width="1.8" />
<polygon points="647,589 638.0,593.95 640.25,589.0 638.0,584.05" fill="#ed7d31" />
<text x="540" y="522" font-family='"Liberation Sans", sans-serif' font-size="17" text-anchor="middle" fill="#222" font-weight="bold" font-style="italic" textLength="54" lengthAdjust="spacingAndGlyphs"  stroke="#222" stroke-width="0.3">TEU - 2</text>
<text x="540" y="542" font-family='"Liberation Sans", sans-serif' font-size="14" text-anchor="middle" fill="#333" font-weight="normal" font-style="normal" textLength="54" lengthAdjust="spacingAndGlyphs"  stroke="#333" stroke-width="0.3">32x32 in</text>
<text x="540" y="560.5" font-family='"Liberation Sans", sans-serif' font-size="14" text-anchor="middle" fill="#333" font-weight="normal" font-style="normal" textLength="62" lengthAdjust="spacingAndGlyphs"  stroke="#333" stroke-width="0.3">16x16 out</text>
<text x="701" y="543" font-family='"Liberation Sans", sans-serif' font-size="17" text-anchor="middle" fill="#222" font-weight="bold" font-style="italic" textLength="54" lengthAdjust="spacingAndGlyphs"  stroke="#222" stroke-width="0.3">TEU - n</text>
<text x="701" y="562" font-family='"Liberation Sans", sans-serif' font-size="14" text-anchor="middle" fill="#333" font-weight="normal" font-style="normal" textLength="54" lengthAdjust="spacingAndGlyphs"  stroke="#333" stroke-width="0.3">32x32 in</text>
<text x="701" y="581" font-family='"Liberation Sans", sans-serif' font-size="14" text-anchor="middle" fill="#333" font-weight="normal" font-style="normal" textLength="62" lengthAdjust="spacingAndGlyphs"  stroke="#333" stroke-width="0.3">16x16 out</text>
<circle cx="613.3" cy="548" r="1.7" fill="#222" />
<circle cx="618.5" cy="548" r="1.7" fill="#222" />
<circle cx="623.7" cy="548" r="1.7" fill="#222" />
<defs><filter id="nz" x="0" y="0" width="100%" height="100%"><feTurbulence type="fractalNoise" baseFrequency="0.7" numOctaves="2" seed="4"/><feColorMatrix type="matrix" values="0 0 0 0 0  0 0 0 0 0  0 0 0 0 0  0 0 0 -2.2 1.35"/></filter><filter id="nzb" x="0" y="0" width="100%" height="100%"><feTurbulence type="fractalNoise" baseFrequency="0.45" numOctaves="3" seed="11"/><feColorMatrix type="matrix" values="0 0 0 0 0  0 0 0 0 0  0 0 0 0 0  0 0 0 -5 3.0"/></filter><filter id="nzh" x="0" y="0" width="100%" height="100%"><feTurbulence type="fractalNoise" baseFrequency="0.5" numOctaves="3" seed="7"/><feColorMatrix type="matrix" values="0 0 0 0 0  0 0 0 0 0  0 0 0 0 0  0 0 0 -10 3.3"/></filter><filter id="nzw" x="0" y="0" width="100%" height="100%"><feTurbulence type="fractalNoise" baseFrequency="0.45" numOctaves="2" seed="2"/><feColorMatrix type="matrix" values="0 0 0 0 0  0 0 0 0 0  0 0 0 0 0  0 0 0 -3 1.55"/></filter></defs>
<rect x="783" y="421.6" width="171" height="169.7" fill="none" stroke="#555" stroke-width="1.3" stroke-dasharray="3,3"/>
<rect x="838" y="481.6" width="115.2" height="109.2" fill="#fff" stroke="#555" stroke-width="1.1"/>
<path d="M935.7 512 L940 509.5 L944 511 L948 509 L952 510.5 L952 556.6 L935.7 556.6 Z" fill="#6c6c6c" filter="url(#soft1)"/>
<rect x="935.7" y="540" width="16.3" height="16.6" fill="#858585" opacity="0.6"/>
<rect x="820.7" y="463.6" width="114.5" height="109.2" fill="#e2e2e2"/>
<rect x="820.7" y="463.6" width="114.5" height="109.2" fill="#000" filter="url(#nzh)" opacity="0.9"/>
<rect x="917" y="490" width="18" height="52" fill="#000" filter="url(#nzb)" opacity="0.9"/>
<rect x="820.7" y="463.6" width="114.5" height="109.2" fill="none" stroke="#444" stroke-width="1.1"/>
<defs><linearGradient id="o2" x1="0" y1="0" x2="0" y2="1"><stop offset="0" stop-color="#b0b0b0"/><stop offset="0.6" stop-color="#a2a2a2"/><stop offset="0.7" stop-color="#999"/><stop offset="1" stop-color="#a0a0a0"/></linearGradient></defs>
<rect x="803" y="443.7" width="114.7" height="108.7" fill="url(#o2)" stroke="#555" stroke-width="1.1"/>
<defs><linearGradient id="o1" x1="0" y1="0" x2="0" y2="1"><stop offset="0" stop-color="#e0e0e0"/><stop offset="0.45" stop-color="#cecece"/><stop offset="0.58" stop-color="#c2c2c2"/><stop offset="0.68" stop-color="#d0d0d0"/><stop offset="1" stop-color="#d8d8d8"/></linearGradient></defs>
<rect x="783" y="422" width="115" height="108.8" fill="url(#o1)"/>
<g filter="url(#soft2)"><path d="M834 452 L845 450 L846 441 L862 441 L864 448 L898 450 L898 490 L834 490 Z" fill="#a0a0a0"/><rect x="825" y="470" width="20" height="20" fill="#b0b0b0"/><rect x="783" y="478" width="115" height="14" fill="#b8b8b8" opacity="0.7"/></g>
<rect x="783" y="422" width="115" height="108.8" fill="#000" filter="url(#nzw)" opacity="0.14"/>
<path d="M794.4 458 L802 453 L822 453 L829.4 458 L829.4 474 L794.4 474 Z" fill="#fbfbfb" filter="url(#soft1)"/>
<rect x="800" y="461" width="8" height="8" fill="#9a9a9a"/><rect x="820" y="462" width="4" height="6" fill="#b8b8b8"/>
<rect x="783" y="422" width="115" height="108.8" fill="none" stroke="#555" stroke-width="1.1"/>
<line x1="953" y1="508" x2="970.8" y2="508.0" stroke="#ed7d31" stroke-width="2.6" />
<polygon points="982,508 966.0,512.8 970.0,508.0 966.0,503.2" fill="#ed7d31" />
<circle cx="988" cy="508" r="1.3" fill="#333" />
<circle cx="993" cy="508" r="1.3" fill="#333" />
<circle cx="998" cy="508" r="1.3" fill="#333" />
</g>
<g id="panelC">
<text x="19.5" y="648.6" font-family='"Liberation Sans", sans-serif' font-size="21" text-anchor="start" fill="#111" font-weight="bold" font-style="normal" textLength="12.2" lengthAdjust="spacingAndGlyphs"  stroke="#111" stroke-width="0.3">C</text>
<text x="203.9" y="651.5" font-family='"Liberation Sans", sans-serif' font-size="21" fill="#2a2a2a" textLength="600.5" lengthAdjust="spacingAndGlyphs" stroke="#2a2a2a" stroke-width="0.3"><tspan font-weight="bold" font-style="italic" fill="#111">Taichi</tspan>: On-chip Million-neuron Distributed Photonic Computing</text>
<line x1="110.5" y1="768.5" x2="198" y2="768.5" stroke="#dcdcdc" stroke-width="2.8" />
<polygon points="204,768.5 196,764.0 196,773.0" fill="#dcdcdc" />
<line x1="110.5" y1="816" x2="194" y2="816" stroke="#dcdcdc" stroke-width="2.8" />
<polygon points="200,816 192,811.5 192,820.5" fill="#dcdcdc" />
<line x1="110.5" y1="886.5" x2="186" y2="886.5" stroke="#dcdcdc" stroke-width="2.8" />
<polygon points="192,886.5 184,882.0 184,891.0" fill="#dcdcdc" />
<line x1="785" y1="768" x2="891" y2="768" stroke="#dcdcdc" stroke-width="2.8" />
<polygon points="897,768 889,763.5 889,772.5" fill="#dcdcdc" />
<line x1="785" y1="816" x2="891" y2="816" stroke="#dcdcdc" stroke-width="2.8" />
<polygon points="897,816 889,811.5 889,820.5" fill="#dcdcdc" />
<line x1="785" y1="885.8" x2="891" y2="885.8" stroke="#dcdcdc" stroke-width="2.8" />
<polygon points="897,885.8 889,881.3 889,890.3" fill="#dcdcdc" />
<path d="M234.2,747.8 Q236.0,741.0 243.0,741.0 L820.5,741.0 Q827.5,741.0 825.7,747.8 L775.1,935.2 Q773.2,942.0 766.2,942.0 L188.7,942.0 Q181.7,942.0 183.6,935.2 Z" fill="#fbfbf5" fill-opacity="0.8" stroke="#cfcfcf" stroke-width="1.4"/>
<path d="M234.2,704.3 Q236.0,697.5 243.0,697.5 L820.5,697.5 Q827.5,697.5 825.7,704.3 L775.1,891.7 Q773.2,898.5 766.2,898.5 L188.7,898.5 Q181.7,898.5 183.6,891.7 Z" fill="#fbfbf5" fill-opacity="0.8" stroke="#cfcfcf" stroke-width="1.4"/>
<path d="M234.2,672.3 Q236.0,665.5 243.0,665.5 L820.5,665.5 Q827.5,665.5 825.7,672.3 L775.1,859.7 Q773.2,866.5 766.2,866.5 L188.7,866.5 Q181.7,866.5 183.6,859.7 Z" fill="#fcfcf7" fill-opacity="0.82" stroke="#cfcfcf" stroke-width="1.4"/>
<rect x="52" y="719" width="58.5" height="203.5" rx="9" fill="#fdfdfb" stroke="#d4d4d4" stroke-width="1.5"/>
<rect x="898.5" y="720" width="54" height="202.5" rx="9" fill="#fdfdfb" stroke="#d4d4d4" stroke-width="1.5"/>
<text transform="translate(88.3,895.5) rotate(-90)" font-family='"Liberation Sans", sans-serif' font-size="20" fill="#333" textLength="147" lengthAdjust="spacingAndGlyphs" stroke="#333" stroke-width="0.3">Task Distributing</text>
<text transform="translate(932.2,910) rotate(-90)" font-family='"Liberation Sans", sans-serif' font-size="20" fill="#333" textLength="176" lengthAdjust="spacingAndGlyphs" stroke="#333" stroke-width="0.3">Results Synthesizing</text>
<text x="121" y="756.6" font-family='"Liberation Sans", sans-serif' font-size="17" text-anchor="start" fill="#333" font-weight="normal" font-style="normal" textLength="48" lengthAdjust="spacingAndGlyphs"  stroke="#333" stroke-width="0.3">Path 1</text>
<text x="121" y="806.4" font-family='"Liberation Sans", sans-serif' font-size="17" text-anchor="start" fill="#333" font-weight="normal" font-style="normal" textLength="48" lengthAdjust="spacingAndGlyphs"  stroke="#333" stroke-width="0.3">Path 2</text>
<text x="120" y="874.5" font-family='"Liberation Sans", sans-serif' font-size="17" text-anchor="start" fill="#333" font-weight="normal" font-style="normal" textLength="51" lengthAdjust="spacingAndGlyphs"  stroke="#333" stroke-width="0.3">Path N</text>
<circle cx="146" cy="837.9" r="1.2" fill="#333" />
<circle cx="146" cy="841.5" r="1.2" fill="#333" />
<circle cx="146" cy="845.1" r="1.2" fill="#333" />
<text x="837" y="757.4" font-family='"Liberation Sans", sans-serif' font-size="17" text-anchor="start" fill="#333" font-weight="normal" font-style="normal" textLength="48.7" lengthAdjust="spacingAndGlyphs"  stroke="#333" stroke-width="0.3">Path 1</text>
<text x="837" y="805.6" font-family='"Liberation Sans", sans-serif' font-size="17" text-anchor="start" fill="#333" font-weight="normal" font-style="normal" textLength="48.7" lengthAdjust="spacingAndGlyphs"  stroke="#333" stroke-width="0.3">Path 2</text>
<text x="837" y="873.5" font-family='"Liberation Sans", sans-serif' font-size="17" text-anchor="start" fill="#333" font-weight="normal" font-style="normal" textLength="51" lengthAdjust="spacingAndGlyphs"  stroke="#333" stroke-width="0.3">Path N</text>
<circle cx="862.2" cy="837.8" r="1.2" fill="#333" />
<circle cx="862.2" cy="841.4" r="1.2" fill="#333" />
<circle cx="862.2" cy="845.0" r="1.2" fill="#333" />
<rect x="245" y="683.5" width="247.5" height="112.5" rx="9" fill="#fbe3d6" transform="matrix(1,0,-0.23,1,157.21,0)" />
<text x="324.5" y="701.5" font-family='"Liberation Sans", sans-serif' font-size="19" text-anchor="start" fill="#7a7a7a" font-weight="bold" font-style="italic" textLength="90" lengthAdjust="spacingAndGlyphs"  stroke="#7a7a7a" stroke-width="0.3">TEU cluster</text>
<rect x="248" y="709" width="68" height="87" rx="7" fill="#fdf6d2" transform="matrix(1,0,-0.23,1,163.07,0)" />
<rect x="320" y="709" width="72" height="87" rx="7" fill="#fdf6d2" transform="matrix(1,0,-0.23,1,163.07,0)" />
<rect x="407" y="709" width="75" height="87" rx="7" fill="#fdf6d2" transform="matrix(1,0,-0.23,1,163.07,0)" />
<circle cx="386" cy="755.5" r="0.9" fill="#555" />
<circle cx="389" cy="755.5" r="0.9" fill="#555" />
<circle cx="392" cy="755.5" r="0.9" fill="#555" />
<rect x="248" y="714.4" width="43.5" height="17.100000000000023" rx="3.5" fill="#cfd3ee" transform="matrix(1,0,-0.23,1,164.31,0)" />
<text x="267.7835" y="726.5500000000001" font-family='"Liberation Sans", sans-serif' font-size="10" text-anchor="middle" fill="#333" font-weight="bold" font-style="italic" textLength="19" lengthAdjust="spacingAndGlyphs"  stroke="#333" stroke-width="0.3">TEU</text>
<rect x="240.5" y="736.6" width="43.5" height="17.399999999999977" rx="3.5" fill="#cfd3ee" transform="matrix(1,0,-0.23,1,169.42,0)" />
<text x="260.249" y="748.9" font-family='"Liberation Sans", sans-serif' font-size="10" text-anchor="middle" fill="#333" font-weight="bold" font-style="italic" textLength="19" lengthAdjust="spacingAndGlyphs"  stroke="#333" stroke-width="0.3">TEU</text>
<rect x="231.5" y="770.5" width="45.0" height="18.0" rx="3.5" fill="#cfd3ee" transform="matrix(1,0,-0.23,1,177.22,0)" />
<text x="251.93" y="783.1" font-family='"Liberation Sans", sans-serif' font-size="10" text-anchor="middle" fill="#333" font-weight="bold" font-style="italic" textLength="19" lengthAdjust="spacingAndGlyphs"  stroke="#333" stroke-width="0.3">TEU</text>
<line x1="260.09000000000003" y1="759" x2="258.89" y2="766" stroke="#555" stroke-width="1"/>
<rect x="323" y="714.4" width="45" height="17.100000000000023" rx="3.5" fill="#cfd3ee" transform="matrix(1,0,-0.23,1,164.31,0)" />
<text x="343.5335" y="726.5500000000001" font-family='"Liberation Sans", sans-serif' font-size="10" text-anchor="middle" fill="#333" font-weight="bold" font-style="italic" textLength="19" lengthAdjust="spacingAndGlyphs"  stroke="#333" stroke-width="0.3">TEU</text>
<rect x="316.4" y="736.6" width="44.10000000000002" height="17.399999999999977" rx="3.5" fill="#cfd3ee" transform="matrix(1,0,-0.23,1,169.42,0)" />
<text x="336.449" y="748.9" font-family='"Liberation Sans", sans-serif' font-size="10" text-anchor="middle" fill="#333" font-weight="bold" font-style="italic" textLength="19" lengthAdjust="spacingAndGlyphs"  stroke="#333" stroke-width="0.3">TEU</text>
<rect x="306.5" y="770.5" width="45.0" height="18.0" rx="3.5" fill="#cfd3ee" transform="matrix(1,0,-0.23,1,177.22,0)" />
<text x="326.93" y="783.1" font-family='"Liberation Sans", sans-serif' font-size="10" text-anchor="middle" fill="#333" font-weight="bold" font-style="italic" textLength="19" lengthAdjust="spacingAndGlyphs"  stroke="#333" stroke-width="0.3">TEU</text>
<line x1="336.29" y1="759" x2="335.09" y2="766" stroke="#555" stroke-width="1"/>
<rect x="411.5" y="714.4" width="45.89999999999998" height="17.100000000000023" rx="3.5" fill="#cfd3ee" transform="matrix(1,0,-0.23,1,164.31,0)" />
<text x="432.4835" y="726.5500000000001" font-family='"Liberation Sans", sans-serif' font-size="10" text-anchor="middle" fill="#333" font-weight="bold" font-style="italic" textLength="19" lengthAdjust="spacingAndGlyphs"  stroke="#333" stroke-width="0.3">TEU</text>
<rect x="405" y="736.6" width="44" height="17.399999999999977" rx="3.5" fill="#cfd3ee" transform="matrix(1,0,-0.23,1,169.42,0)" />
<text x="424.999" y="748.9" font-family='"Liberation Sans", sans-serif' font-size="10" text-anchor="middle" fill="#333" font-weight="bold" font-style="italic" textLength="19" lengthAdjust="spacingAndGlyphs"  stroke="#333" stroke-width="0.3">TEU</text>
<rect x="395" y="770.5" width="45" height="18.0" rx="3.5" fill="#cfd3ee" transform="matrix(1,0,-0.23,1,177.22,0)" />
<text x="415.43" y="783.1" font-family='"Liberation Sans", sans-serif' font-size="10" text-anchor="middle" fill="#333" font-weight="bold" font-style="italic" textLength="19" lengthAdjust="spacingAndGlyphs"  stroke="#333" stroke-width="0.3">TEU</text>
<line x1="424.84000000000003" y1="759" x2="423.64" y2="766" stroke="#555" stroke-width="1"/>
<text transform="translate(294.5,751) rotate(-77)" font-family='"Liberation Sans", sans-serif' font-size="13" font-weight="bold" font-style="italic" fill="#222" text-anchor="middle" textLength="58" lengthAdjust="spacingAndGlyphs" stroke="#222" stroke-width="0.3">TEU set 1</text>
<text transform="translate(371,751) rotate(-77)" font-family='"Liberation Sans", sans-serif' font-size="13" font-weight="bold" font-style="italic" fill="#222" text-anchor="middle" textLength="58" lengthAdjust="spacingAndGlyphs" stroke="#222" stroke-width="0.3">TEU set 2</text>
<text transform="translate(458,751) rotate(-77)" font-family='"Liberation Sans", sans-serif' font-size="13" font-weight="bold" font-style="italic" fill="#222" text-anchor="middle" textLength="58" lengthAdjust="spacingAndGlyphs" stroke="#222" stroke-width="0.3">TEU set n</text>
<circle cx="331.6" cy="806.2" r="1.05" fill="#3a3a3a" />
<circle cx="330.5" cy="809.5" r="1.05" fill="#3a3a3a" />
<circle cx="329.4" cy="812.8" r="1.05" fill="#3a3a3a" />
<rect x="212" y="820" width="240" height="30" rx="6" fill="#fbe3d6" transform="matrix(1,0,-0.23,1,188.60,0)" />
<text x="287" y="841" font-family='"Liberation Sans", sans-serif' font-size="19" text-anchor="start" fill="#7a7a7a" font-weight="bold" font-style="italic" textLength="90" lengthAdjust="spacingAndGlyphs"  stroke="#7a7a7a" stroke-width="0.3">TEU cluster</text>
<line x1="638" y1="697" x2="692" y2="697" stroke="#d8d8d8" stroke-width="1.2" />
<line x1="806" y1="697" x2="826" y2="697" stroke="#d8d8d8" stroke-width="1.2" />
<line x1="618" y1="767" x2="672" y2="767" stroke="#d8d8d8" stroke-width="1.2" />
<line x1="785" y1="767" x2="800" y2="767" stroke="#d8d8d8" stroke-width="1.2" />
<line x1="600" y1="834.8" x2="652" y2="834.8" stroke="#d8d8d8" stroke-width="1.2" />
<line x1="768" y1="834.8" x2="775" y2="834.8" stroke="#d8d8d8" stroke-width="1.2" />
<rect x="526" y="684" width="112" height="26" rx="5" fill="#fbe3d6" transform="matrix(1,0,-0.23,1,157.32,0)" />
<text x="538" y="702" font-family='"Liberation Sans", sans-serif' font-size="19" text-anchor="start" fill="#7a7a7a" font-weight="bold" font-style="italic" textLength="88" lengthAdjust="spacingAndGlyphs"  stroke="#7a7a7a" stroke-width="0.3">TEU cluster</text>
<rect x="692" y="684" width="114" height="26" rx="5" fill="#fbe3d6" transform="matrix(1,0,-0.23,1,157.32,0)" />
<text x="706" y="702" font-family='"Liberation Sans", sans-serif' font-size="19" text-anchor="start" fill="#7a7a7a" font-weight="bold" font-style="italic" textLength="90" lengthAdjust="spacingAndGlyphs"  stroke="#7a7a7a" stroke-width="0.3">TEU cluster</text>
<rect x="508" y="753" width="110" height="28" rx="5" fill="#fbe3d6" transform="matrix(1,0,-0.23,1,173.19,0)" />
<text x="516" y="774" font-family='"Liberation Sans", sans-serif' font-size="19" text-anchor="start" fill="#7a7a7a" font-weight="bold" font-style="italic" textLength="90" lengthAdjust="spacingAndGlyphs"  stroke="#7a7a7a" stroke-width="0.3">TEU cluster</text>
<rect x="672" y="753" width="113" height="28" rx="5" fill="#fbe3d6" transform="matrix(1,0,-0.23,1,173.19,0)" />
<text x="684" y="774" font-family='"Liberation Sans", sans-serif' font-size="19" text-anchor="start" fill="#7a7a7a" font-weight="bold" font-style="italic" textLength="91" lengthAdjust="spacingAndGlyphs"  stroke="#7a7a7a" stroke-width="0.3">TEU cluster</text>
<rect x="486" y="820" width="114" height="28" rx="5" fill="#fbe3d6" transform="matrix(1,0,-0.23,1,188.60,0)" />
<text x="498" y="841" font-family='"Liberation Sans", sans-serif' font-size="19" text-anchor="start" fill="#7a7a7a" font-weight="bold" font-style="italic" textLength="89" lengthAdjust="spacingAndGlyphs"  stroke="#7a7a7a" stroke-width="0.3">TEU cluster</text>
<rect x="652" y="820" width="116" height="28" rx="5" fill="#fbe3d6" transform="matrix(1,0,-0.23,1,188.60,0)" />
<text x="666" y="841" font-family='"Liberation Sans", sans-serif' font-size="19" text-anchor="start" fill="#7a7a7a" font-weight="bold" font-style="italic" textLength="90" lengthAdjust="spacingAndGlyphs"  stroke="#7a7a7a" stroke-width="0.3">TEU cluster</text>
<circle cx="661" cy="698" r="1.0" fill="#555" />
<circle cx="664" cy="698" r="1.0" fill="#555" />
<circle cx="667" cy="698" r="1.0" fill="#555" />
<circle cx="643" cy="767" r="1.0" fill="#555" />
<circle cx="646" cy="767" r="1.0" fill="#555" />
<circle cx="649" cy="767" r="1.0" fill="#555" />
<circle cx="623" cy="835" r="1.0" fill="#555" />
<circle cx="626" cy="835" r="1.0" fill="#555" />
<circle cx="629" cy="835" r="1.0" fill="#555" />
<circle cx="573.1" cy="730.7" r="1.05" fill="#3a3a3a" />
<circle cx="572.0" cy="734.0" r="1.05" fill="#3a3a3a" />
<circle cx="570.9" cy="737.3" r="1.05" fill="#3a3a3a" />
<circle cx="740.1" cy="730.7" r="1.05" fill="#3a3a3a" />
<circle cx="739.0" cy="734.0" r="1.05" fill="#3a3a3a" />
<circle cx="737.9" cy="737.3" r="1.05" fill="#3a3a3a" />
<circle cx="553.9" cy="799.2" r="1.05" fill="#3a3a3a" />
<circle cx="552.8" cy="802.5" r="1.05" fill="#3a3a3a" />
<circle cx="551.6999999999999" cy="805.8" r="1.05" fill="#3a3a3a" />
<circle cx="721.1" cy="799.2" r="1.05" fill="#3a3a3a" />
<circle cx="720.0" cy="802.5" r="1.05" fill="#3a3a3a" />
<circle cx="718.9" cy="805.8" r="1.05" fill="#3a3a3a" />
<line x1="492.1" y1="696.9" x2="520.5" y2="696.9" stroke="#ec7c3a" stroke-width="1.5" />
<polygon points="524.7,696.9 518.7,700.1999999999999 520.2,696.9 518.7,693.6" fill="#ec7c3a" />
<line x1="492.1" y1="696.9" x2="505.54051214902705" y2="761.1888832862554" stroke="#ec7c3a" stroke-width="1.5" />
<polygon points="506.4,765.3 501.94199708066793,760.1022880061292 505.4791201596718,760.8952320924164 508.40232334512365,758.7516642403147" fill="#ec7c3a" />
<line x1="492.1" y1="696.9" x2="487.54559509731905" y2="828.202524321972" stroke="#ec7c3a" stroke-width="1.5" />
<polygon points="487.4,832.4 484.3099763920052,826.2892100263522 487.5559947471275,827.9027046306843 490.90600960033487,826.5180023221393" fill="#ec7c3a" />
<line x1="456.3" y1="834.4" x2="522.8062142182592" y2="702.7488098661944" stroke="#ec7c3a" stroke-width="1.5" />
<polygon points="524.7,699 524.940085206666,705.8434172087883 522.6709438052778,703.016581999494 519.0490982740748,702.8674681231956" fill="#ec7c3a" />
<line x1="456.3" y1="834.4" x2="502.4816550702434" y2="772.7612406659996" stroke="#ec7c3a" stroke-width="1.5" />
<polygon points="505,769.4 504.04333919506166,776.1804719676653 502.30177328954653,773.0013292849995 498.76138957706235,772.2230727923335" fill="#ec7c3a" />
<line x1="456.3" y1="834.4" x2="482.5" y2="834.4" stroke="#ec7c3a" stroke-width="1.5" />
<polygon points="486.7,834.4 480.7,837.6999999999999 482.2,834.4 480.7,831.1" fill="#ec7c3a" />
</g>
<g id="panelD">
<text x="19.8" y="972.7" font-family='"Liberation Sans", sans-serif' font-size="21" text-anchor="start" fill="#111" font-weight="bold" font-style="normal" textLength="11.7" lengthAdjust="spacingAndGlyphs"  stroke="#111" stroke-width="0.3">D</text>
<rect x="80.8" y="990.8" width="277.0" height="220.20000000000005" fill="#fff" />
<path d="M80.90,991.50 L81.61,1000.47 L82.32,1008.33 L83.03,1015.29 L83.75,1021.50 L84.46,1027.08 L85.17,1032.14 L85.88,1036.75 L86.59,1040.97 L87.30,1044.84 L88.02,1048.42 L88.73,1051.74 L89.44,1054.82 L90.15,1057.69 L90.86,1060.38 L91.57,1062.89 L92.28,1065.25 L93.00,1067.47 L93.71,1069.57 L94.42,1071.54 L95.13,1073.41 L96.55,1076.85 L99.87,1083.63 L103.18,1089.07 L106.50,1093.49 L109.81,1097.14 L113.13,1100.16 L116.44,1102.69 L119.76,1104.80 L123.07,1106.56 L126.38,1108.03 L129.70,1109.25 L133.01,1110.25 L136.33,1111.06 L139.64,1111.70 L142.96,1112.19 L146.27,1112.55 L149.59,1112.79 L152.90,1112.91 L156.21,1112.94 L159.53,1112.88 L162.84,1112.74 L166.16,1112.52 L169.47,1112.23 L172.79,1111.87 L176.10,1111.46 L179.42,1110.99 L182.73,1110.46 L186.05,1109.89 L189.36,1109.27 L192.67,1108.60 L195.99,1107.89 L199.30,1107.15 L202.62,1106.36 L205.93,1105.55 L209.25,1104.69 L212.56,1103.81 L215.88,1102.89 L219.19,1101.95 L222.51,1100.97 L225.82,1099.97 L229.13,1098.95 L232.45,1097.89 L235.76,1096.82 L239.08,1095.72 L242.39,1094.59 L245.71,1093.45 L249.02,1092.28 L252.34,1091.09 L255.65,1089.89 L258.96,1088.66 L262.28,1087.41 L265.59,1086.15 L268.91,1084.87 L272.22,1083.56 L275.54,1082.25 L278.85,1080.91 L282.17,1079.56 L285.48,1078.19 L288.80,1076.81 L292.11,1075.41 L295.42,1074.00 L298.74,1072.57 L302.05,1071.13 L305.37,1069.67 L308.68,1068.20 L312.00,1066.71 L315.31,1065.21 L318.63,1063.70 L321.94,1062.17 L325.25,1060.63 L328.57,1059.08 L331.88,1057.52 L335.20,1055.94 L338.51,1054.35 L341.83,1052.74 L345.14,1051.13 L348.46,1049.50 L351.77,1047.87 L355.09,1046.22 L358.40,1044.55" fill="none" stroke="#77ac30" stroke-width="2" stroke-linejoin="round"/>
<path d="M80.90,991.50 L81.61,1001.06 L82.32,1009.40 L83.03,1016.75 L83.75,1023.30 L84.46,1029.19 L85.17,1034.50 L85.88,1039.34 L86.59,1043.77 L87.30,1047.84 L88.02,1051.60 L88.73,1055.08 L89.44,1058.32 L90.15,1061.35 L90.86,1064.18 L91.57,1066.83 L92.28,1069.33 L93.00,1071.68 L93.71,1073.90 L94.42,1076.01 L95.13,1078.00 L96.55,1081.70 L99.87,1089.06 L103.18,1095.09 L106.50,1100.13 L109.81,1104.41 L113.13,1108.09 L116.44,1111.30 L119.76,1114.11 L123.07,1116.60 L126.38,1118.82 L129.70,1120.80 L133.01,1122.58 L136.33,1124.19 L139.64,1125.65 L142.96,1126.98 L146.27,1128.18 L149.59,1129.28 L152.90,1130.29 L156.21,1131.21 L159.53,1132.05 L162.84,1132.83 L166.16,1133.54 L169.47,1134.19 L172.79,1134.79 L176.10,1135.34 L179.42,1135.85 L182.73,1136.31 L186.05,1136.73 L189.36,1137.12 L192.67,1137.47 L195.99,1137.79 L199.30,1138.08 L202.62,1138.35 L205.93,1138.58 L209.25,1138.79 L212.56,1138.98 L215.88,1139.15 L219.19,1139.30 L222.51,1139.42 L225.82,1139.53 L229.13,1139.62 L232.45,1139.69 L235.76,1139.75 L239.08,1139.79 L242.39,1139.81 L245.71,1139.83 L249.02,1139.82 L252.34,1139.81 L255.65,1139.78 L258.96,1139.74 L262.28,1139.69 L265.59,1139.63 L268.91,1139.56 L272.22,1139.47 L275.54,1139.38 L278.85,1139.28 L282.17,1139.17 L285.48,1139.05 L288.80,1138.92 L292.11,1138.78 L295.42,1138.64 L298.74,1138.48 L302.05,1138.32 L305.37,1138.15 L308.68,1137.98 L312.00,1137.80 L315.31,1137.61 L318.63,1137.41 L321.94,1137.21 L325.25,1137.00 L328.57,1136.79 L331.88,1136.57 L335.20,1136.34 L338.51,1136.11 L341.83,1135.87 L345.14,1135.63 L348.46,1135.38 L351.77,1135.12 L355.09,1134.87 L358.40,1134.60" fill="none" stroke="#edb120" stroke-width="2" stroke-linejoin="round"/>
<path d="M80.90,991.50 L81.61,1001.44 L82.32,1010.19 L83.03,1017.96 L83.75,1024.94 L84.46,1031.25 L85.17,1036.99 L85.88,1042.24 L86.59,1047.07 L87.30,1051.54 L88.02,1055.68 L88.73,1059.53 L89.44,1063.14 L90.15,1066.51 L90.86,1069.68 L91.57,1072.67 L92.28,1075.49 L93.00,1078.15 L93.71,1080.68 L94.42,1083.08 L95.13,1085.36 L96.55,1089.61 L99.87,1098.15 L103.18,1105.23 L106.50,1111.21 L109.81,1116.33 L113.13,1120.79 L116.44,1124.71 L119.76,1128.17 L123.07,1131.27 L126.38,1134.05 L129.70,1136.57 L133.01,1138.85 L136.33,1140.94 L139.64,1142.85 L142.96,1144.61 L146.27,1146.23 L149.59,1147.73 L152.90,1149.12 L156.21,1150.42 L159.53,1151.63 L162.84,1152.76 L166.16,1153.81 L169.47,1154.81 L172.79,1155.74 L176.10,1156.62 L179.42,1157.45 L182.73,1158.24 L186.05,1158.98 L189.36,1159.69 L192.67,1160.36 L195.99,1161.00 L199.30,1161.60 L202.62,1162.18 L205.93,1162.74 L209.25,1163.27 L212.56,1163.78 L215.88,1164.26 L219.19,1164.73 L222.51,1165.18 L225.82,1165.62 L229.13,1166.04 L232.45,1166.44 L235.76,1166.84 L239.08,1167.21 L242.39,1167.58 L245.71,1167.94 L249.02,1168.29 L252.34,1168.63 L255.65,1168.96 L258.96,1169.28 L262.28,1169.60 L265.59,1169.91 L268.91,1170.21 L272.22,1170.51 L275.54,1170.80 L278.85,1171.09 L282.17,1171.38 L285.48,1171.66 L288.80,1171.93 L292.11,1172.21 L295.42,1172.48 L298.74,1172.75 L302.05,1173.01 L305.37,1173.28 L308.68,1173.54 L312.00,1173.81 L315.31,1174.07 L318.63,1174.33 L321.94,1174.59 L325.25,1174.85 L328.57,1175.11 L331.88,1175.37 L335.20,1175.63 L338.51,1175.89 L341.83,1176.15 L345.14,1176.41 L348.46,1176.68 L351.77,1176.94 L355.09,1177.21 L358.40,1177.47" fill="none" stroke="#1f73b8" stroke-width="2" stroke-linejoin="round"/>
<circle cx="166.2" cy="1110.5" r="3.8" fill="#fbe0e0" stroke="#d61a22" stroke-width="2.6"/>
<circle cx="251.8" cy="1139.9" r="3.8" fill="#fbe0e0" stroke="#d61a22" stroke-width="2.6"/>
<circle cx="358.4" cy="1177.4" r="3.8" fill="#fbe0e0" stroke="#d61a22" stroke-width="2.6"/>
<rect x="80.8" y="990.8" width="277.0" height="220.20000000000005" fill="none" stroke="#9a9a9a" stroke-width="1.1"/>
<line x1="80.8" y1="1166.96" x2="83.3" y2="1166.96" stroke="#9a9a9a" stroke-width="1" />
<line x1="357.8" y1="1166.96" x2="355.3" y2="1166.96" stroke="#9a9a9a" stroke-width="1" />
<line x1="80.8" y1="1122.92" x2="83.3" y2="1122.92" stroke="#9a9a9a" stroke-width="1" />
<line x1="357.8" y1="1122.92" x2="355.3" y2="1122.92" stroke="#9a9a9a" stroke-width="1" />
<line x1="80.8" y1="1078.8799999999999" x2="83.3" y2="1078.8799999999999" stroke="#9a9a9a" stroke-width="1" />
<line x1="357.8" y1="1078.8799999999999" x2="355.3" y2="1078.8799999999999" stroke="#9a9a9a" stroke-width="1" />
<line x1="80.8" y1="1034.84" x2="83.3" y2="1034.84" stroke="#9a9a9a" stroke-width="1" />
<line x1="357.8" y1="1034.84" x2="355.3" y2="1034.84" stroke="#9a9a9a" stroke-width="1" />
<line x1="144.72307692307692" y1="1211" x2="144.72307692307692" y2="1208.5" stroke="#9a9a9a" stroke-width="1" />
<line x1="144.72307692307692" y1="990.8" x2="144.72307692307692" y2="993.3" stroke="#9a9a9a" stroke-width="1" />
<line x1="215.74871794871797" y1="1211" x2="215.74871794871797" y2="1208.5" stroke="#9a9a9a" stroke-width="1" />
<line x1="215.74871794871797" y1="990.8" x2="215.74871794871797" y2="993.3" stroke="#9a9a9a" stroke-width="1" />
<line x1="286.77435897435896" y1="1211" x2="286.77435897435896" y2="1208.5" stroke="#9a9a9a" stroke-width="1" />
<line x1="286.77435897435896" y1="990.8" x2="286.77435897435896" y2="993.3" stroke="#9a9a9a" stroke-width="1" />
<line x1="357.8" y1="1211" x2="357.8" y2="1208.5" stroke="#9a9a9a" stroke-width="1" />
<line x1="357.8" y1="990.8" x2="357.8" y2="993.3" stroke="#9a9a9a" stroke-width="1" />
<text x="72.2" y="1215.8" font-family='"Liberation Sans", sans-serif' font-size="13.8" text-anchor="end" fill="#444" font-weight="normal" font-style="normal"  stroke="#444" stroke-width="0.3">0</text>
<text x="72.2" y="1171.76" font-family='"Liberation Sans", sans-serif' font-size="13.8" text-anchor="end" fill="#444" font-weight="normal" font-style="normal"  stroke="#444" stroke-width="0.3">0.2</text>
<text x="72.2" y="1127.72" font-family='"Liberation Sans", sans-serif' font-size="13.8" text-anchor="end" fill="#444" font-weight="normal" font-style="normal"  stroke="#444" stroke-width="0.3">0.4</text>
<text x="72.2" y="1083.6799999999998" font-family='"Liberation Sans", sans-serif' font-size="13.8" text-anchor="end" fill="#444" font-weight="normal" font-style="normal"  stroke="#444" stroke-width="0.3">0.6</text>
<text x="72.2" y="1039.6399999999999" font-family='"Liberation Sans", sans-serif' font-size="13.8" text-anchor="end" fill="#444" font-weight="normal" font-style="normal"  stroke="#444" stroke-width="0.3">0.8</text>
<text x="72.2" y="995.5999999999999" font-family='"Liberation Sans", sans-serif' font-size="13.8" text-anchor="end" fill="#444" font-weight="normal" font-style="normal"  stroke="#444" stroke-width="0.3">1</text>
<text x="144.72307692307692" y="1233" font-family='"Liberation Sans", sans-serif' font-size="13.8" text-anchor="middle" fill="#444" font-weight="normal" font-style="normal"  stroke="#444" stroke-width="0.3">10</text>
<text x="215.74871794871797" y="1233" font-family='"Liberation Sans", sans-serif' font-size="13.8" text-anchor="middle" fill="#444" font-weight="normal" font-style="normal"  stroke="#444" stroke-width="0.3">20</text>
<text x="286.77435897435896" y="1233" font-family='"Liberation Sans", sans-serif' font-size="13.8" text-anchor="middle" fill="#444" font-weight="normal" font-style="normal"  stroke="#444" stroke-width="0.3">30</text>
<text x="357.8" y="1233" font-family='"Liberation Sans", sans-serif' font-size="13.8" text-anchor="middle" fill="#444" font-weight="normal" font-style="normal"  stroke="#444" stroke-width="0.3">40</text>
<text x="123.5" y="982.3" font-family='"Liberation Sans", sans-serif' font-size="13" text-anchor="start" fill="#333" font-weight="normal" font-style="normal" textLength="191.9" lengthAdjust="spacingAndGlyphs"  stroke="#333" stroke-width="0.3">Error Rate V.S. Network Depth</text>
<text x="150" y="1250" font-family='"Liberation Sans", sans-serif' font-size="19" text-anchor="start" fill="#222" font-weight="normal" font-style="normal" textLength="137" lengthAdjust="spacingAndGlyphs"  stroke="#222" stroke-width="0.3">Number of layers</text>
<text transform="translate(48.7,1174) rotate(-90)" font-family='"Liberation Sans", sans-serif' font-size="17.5" fill="#222" textLength="148" lengthAdjust="spacingAndGlyphs" stroke="#222" stroke-width="0.3">Expected  err. rate</text>
<rect x="109.8" y="1001" width="149.4" height="70.4" fill="#fff" stroke="#555a66" stroke-width="1"/>
<line x1="120" y1="1012.6" x2="134.5" y2="1012.6" stroke="#1f73b8" stroke-width="2" />
<text x="141.7" y="1016.9" font-family='"Liberation Sans", sans-serif' font-size="12.5" text-anchor="start" fill="#333" font-weight="normal" font-style="normal" textLength="74" lengthAdjust="spacingAndGlyphs"  stroke="#333" stroke-width="0.3">+/- 0.00 Error</text>
<line x1="120" y1="1028.5" x2="134.5" y2="1028.5" stroke="#edb120" stroke-width="2" />
<text x="141.7" y="1032.8" font-family='"Liberation Sans", sans-serif' font-size="12.5" text-anchor="start" fill="#333" font-weight="normal" font-style="normal" textLength="74" lengthAdjust="spacingAndGlyphs"  stroke="#333" stroke-width="0.3">+/- 0.02 Error</text>
<line x1="120" y1="1045" x2="134.5" y2="1045" stroke="#77ac30" stroke-width="2" />
<text x="141.7" y="1049.3" font-family='"Liberation Sans", sans-serif' font-size="12.5" text-anchor="start" fill="#333" font-weight="normal" font-style="normal" textLength="74" lengthAdjust="spacingAndGlyphs"  stroke="#333" stroke-width="0.3">+/- 0.04 Error</text>
<circle cx="127" cy="1061" r="3.3" fill="#f7c8c8" stroke="#d61a22" stroke-width="2.2"/>
<text x="141.7" y="1065.3" font-family='"Liberation Sans", sans-serif' font-size="12.5" text-anchor="start" fill="#333" font-weight="normal" font-style="normal" textLength="112" lengthAdjust="spacingAndGlyphs"  stroke="#333" stroke-width="0.3">Best Layer Amounts</text>
<rect x="421.7" y="991.7" width="121.59999999999997" height="220.29999999999995" fill="#fff" />
<rect x="425.00" y="1121.68" width="6.6" height="90.32" fill="#fce9a9" stroke="#bba77a" stroke-width="1.1"/>
<rect x="438.52" y="1139.30" width="6.6" height="72.70" fill="#fce9a9" stroke="#bba77a" stroke-width="1.1"/>
<rect x="452.04" y="1067.70" width="6.6" height="144.30" fill="#fce9a9" stroke="#bba77a" stroke-width="1.1"/>
<rect x="465.56" y="1085.33" width="6.6" height="126.67" fill="#fce9a9" stroke="#bba77a" stroke-width="1.1"/>
<rect x="479.08" y="1036.86" width="6.6" height="175.14" fill="#fce9a9" stroke="#bba77a" stroke-width="1.1"/>
<rect x="492.60" y="1050.08" width="6.6" height="161.92" fill="#fce9a9" stroke="#bba77a" stroke-width="1.1"/>
<rect x="506.12" y="1019.24" width="6.6" height="192.76" fill="#fce9a9" stroke="#bba77a" stroke-width="1.1"/>
<rect x="519.64" y="1028.05" width="6.6" height="183.95" fill="#fce9a9" stroke="#bba77a" stroke-width="1.1"/>
<rect x="533.16" y="1007.78" width="6.6" height="204.22" fill="#fce9a9" stroke="#bba77a" stroke-width="1.1"/>
<line x1="421.7" y1="1007.69" x2="543.3" y2="1007.69" stroke="#8c8c8c" stroke-width="1.2" stroke-dasharray="4,3"/>
<rect x="421.7" y="991.7" width="121.59999999999997" height="220.29999999999995" fill="none" stroke="#9a9a9a" stroke-width="1.1"/>
<line x1="421.7" y1="1167.94" x2="424.2" y2="1167.94" stroke="#9a9a9a" stroke-width="1" />
<line x1="543.3" y1="1167.94" x2="540.8" y2="1167.94" stroke="#9a9a9a" stroke-width="1" />
<line x1="421.7" y1="1123.88" x2="424.2" y2="1123.88" stroke="#9a9a9a" stroke-width="1" />
<line x1="543.3" y1="1123.88" x2="540.8" y2="1123.88" stroke="#9a9a9a" stroke-width="1" />
<line x1="421.7" y1="1079.82" x2="424.2" y2="1079.82" stroke="#9a9a9a" stroke-width="1" />
<line x1="543.3" y1="1079.82" x2="540.8" y2="1079.82" stroke="#9a9a9a" stroke-width="1" />
<line x1="421.7" y1="1035.76" x2="424.2" y2="1035.76" stroke="#9a9a9a" stroke-width="1" />
<line x1="543.3" y1="1035.76" x2="540.8" y2="1035.76" stroke="#9a9a9a" stroke-width="1" />
<line x1="428.3" y1="1212" x2="428.3" y2="1209.5" stroke="#9a9a9a" stroke-width="1" />
<line x1="428.3" y1="991.7" x2="428.3" y2="994.2" stroke="#9a9a9a" stroke-width="1" />
<text x="428.3" y="1231.6" font-family='"Liberation Sans", sans-serif' font-size="15" text-anchor="middle" fill="#444" font-weight="normal" font-style="normal"  stroke="#444" stroke-width="0.3">4</text>
<line x1="482.4" y1="1212" x2="482.4" y2="1209.5" stroke="#9a9a9a" stroke-width="1" />
<line x1="482.4" y1="991.7" x2="482.4" y2="994.2" stroke="#9a9a9a" stroke-width="1" />
<text x="482.4" y="1231.6" font-family='"Liberation Sans", sans-serif' font-size="15" text-anchor="middle" fill="#444" font-weight="normal" font-style="normal"  stroke="#444" stroke-width="0.3">8</text>
<line x1="536.5" y1="1212" x2="536.5" y2="1209.5" stroke="#9a9a9a" stroke-width="1" />
<line x1="536.5" y1="991.7" x2="536.5" y2="994.2" stroke="#9a9a9a" stroke-width="1" />
<text x="536.5" y="1231.6" font-family='"Liberation Sans", sans-serif' font-size="15" text-anchor="middle" fill="#444" font-weight="normal" font-style="normal"  stroke="#444" stroke-width="0.3">12</text>
<text x="415.8" y="1217.3" font-family='"Liberation Sans", sans-serif' font-size="15" text-anchor="end" fill="#444" font-weight="normal" font-style="normal"  stroke="#444" stroke-width="0.3">0</text>
<text x="415.8" y="1173.24" font-family='"Liberation Sans", sans-serif' font-size="15" text-anchor="end" fill="#444" font-weight="normal" font-style="normal"  stroke="#444" stroke-width="0.3">0.2</text>
<text x="415.8" y="1129.18" font-family='"Liberation Sans", sans-serif' font-size="15" text-anchor="end" fill="#444" font-weight="normal" font-style="normal"  stroke="#444" stroke-width="0.3">0.4</text>
<text x="415.8" y="1085.12" font-family='"Liberation Sans", sans-serif' font-size="15" text-anchor="end" fill="#444" font-weight="normal" font-style="normal"  stroke="#444" stroke-width="0.3">0.6</text>
<text x="415.8" y="1041.06" font-family='"Liberation Sans", sans-serif' font-size="15" text-anchor="end" fill="#444" font-weight="normal" font-style="normal"  stroke="#444" stroke-width="0.3">0.8</text>
<text x="415.8" y="997.0" font-family='"Liberation Sans", sans-serif' font-size="15" text-anchor="end" fill="#444" font-weight="normal" font-style="normal"  stroke="#444" stroke-width="0.3">1</text>
<text x="441.7" y="982.3" font-family='"Liberation Sans", sans-serif' font-size="13" text-anchor="start" fill="#222" font-weight="normal" font-style="normal" textLength="78.80000000000001" lengthAdjust="spacingAndGlyphs"  stroke="#222" stroke-width="0.3">P. acc = 0.80</text>
<text x="431.6" y="1004.7" font-family='"Liberation Sans", sans-serif' font-size="13.5" text-anchor="start" fill="#222" font-weight="normal" font-style="normal" textLength="47.69999999999999" lengthAdjust="spacingAndGlyphs"  stroke="#222" stroke-width="0.3">92.74%</text>
<text x="430" y="1024" font-family='"Liberation Sans", sans-serif' font-size="13.5" text-anchor="start" fill="#222" font-weight="normal" font-style="normal" textLength="50.5" lengthAdjust="spacingAndGlyphs"  stroke="#222" stroke-width="0.3">w/ 12 P.</text>
<rect x="574" y="991.5" width="143.60000000000002" height="220.0" fill="#fff" />
<rect x="577.20" y="1141.10" width="5.6" height="70.40" fill="#7490cb" stroke="#5c74aa" stroke-width="1.1"/>
<rect x="588.18" y="1158.70" width="5.6" height="52.80" fill="#7490cb" stroke="#5c74aa" stroke-width="1.1"/>
<rect x="599.16" y="1093.80" width="5.6" height="117.70" fill="#7490cb" stroke="#5c74aa" stroke-width="1.1"/>
<rect x="610.14" y="1112.50" width="5.6" height="99.00" fill="#7490cb" stroke="#5c74aa" stroke-width="1.1"/>
<rect x="621.12" y="1061.90" width="5.6" height="149.60" fill="#7490cb" stroke="#5c74aa" stroke-width="1.1"/>
<rect x="632.10" y="1079.50" width="5.6" height="132.00" fill="#7490cb" stroke="#5c74aa" stroke-width="1.1"/>
<rect x="643.08" y="1041.00" width="5.6" height="170.50" fill="#7490cb" stroke="#5c74aa" stroke-width="1.1"/>
<rect x="654.06" y="1055.30" width="5.6" height="156.20" fill="#7490cb" stroke="#5c74aa" stroke-width="1.1"/>
<rect x="665.04" y="1026.70" width="5.6" height="184.80" fill="#7490cb" stroke="#5c74aa" stroke-width="1.1"/>
<rect x="676.02" y="1036.60" width="5.6" height="174.90" fill="#7490cb" stroke="#5c74aa" stroke-width="1.1"/>
<rect x="687.00" y="1016.80" width="5.6" height="194.70" fill="#7490cb" stroke="#5c74aa" stroke-width="1.1"/>
<rect x="697.98" y="1024.50" width="5.6" height="187.00" fill="#7490cb" stroke="#5c74aa" stroke-width="1.1"/>
<rect x="708.96" y="1009.10" width="5.6" height="202.40" fill="#7490cb" stroke="#5c74aa" stroke-width="1.1"/>
<line x1="574" y1="1009.01" x2="717.6" y2="1009.01" stroke="#8c8c8c" stroke-width="1.2" stroke-dasharray="4,3"/>
<rect x="574" y="991.5" width="143.60000000000002" height="220.0" fill="none" stroke="#9a9a9a" stroke-width="1.1"/>
<line x1="574" y1="1167.5" x2="576.5" y2="1167.5" stroke="#9a9a9a" stroke-width="1" />
<line x1="717.6" y1="1167.5" x2="715.1" y2="1167.5" stroke="#9a9a9a" stroke-width="1" />
<line x1="574" y1="1123.5" x2="576.5" y2="1123.5" stroke="#9a9a9a" stroke-width="1" />
<line x1="717.6" y1="1123.5" x2="715.1" y2="1123.5" stroke="#9a9a9a" stroke-width="1" />
<line x1="574" y1="1079.5" x2="576.5" y2="1079.5" stroke="#9a9a9a" stroke-width="1" />
<line x1="717.6" y1="1079.5" x2="715.1" y2="1079.5" stroke="#9a9a9a" stroke-width="1" />
<line x1="574" y1="1035.5" x2="576.5" y2="1035.5" stroke="#9a9a9a" stroke-width="1" />
<line x1="717.6" y1="1035.5" x2="715.1" y2="1035.5" stroke="#9a9a9a" stroke-width="1" />
<line x1="580" y1="1211.5" x2="580" y2="1209.0" stroke="#9a9a9a" stroke-width="1" />
<line x1="580" y1="991.5" x2="580" y2="994.0" stroke="#9a9a9a" stroke-width="1" />
<text x="580" y="1231.6" font-family='"Liberation Sans", sans-serif' font-size="15" text-anchor="middle" fill="#444" font-weight="normal" font-style="normal"  stroke="#444" stroke-width="0.3">4</text>
<line x1="624.1" y1="1211.5" x2="624.1" y2="1209.0" stroke="#9a9a9a" stroke-width="1" />
<line x1="624.1" y1="991.5" x2="624.1" y2="994.0" stroke="#9a9a9a" stroke-width="1" />
<text x="624.1" y="1231.6" font-family='"Liberation Sans", sans-serif' font-size="15" text-anchor="middle" fill="#444" font-weight="normal" font-style="normal"  stroke="#444" stroke-width="0.3">8</text>
<line x1="668.2" y1="1211.5" x2="668.2" y2="1209.0" stroke="#9a9a9a" stroke-width="1" />
<line x1="668.2" y1="991.5" x2="668.2" y2="994.0" stroke="#9a9a9a" stroke-width="1" />
<text x="668.2" y="1231.6" font-family='"Liberation Sans", sans-serif' font-size="15" text-anchor="middle" fill="#444" font-weight="normal" font-style="normal"  stroke="#444" stroke-width="0.3">12</text>
<line x1="712.3" y1="1211.5" x2="712.3" y2="1209.0" stroke="#9a9a9a" stroke-width="1" />
<line x1="712.3" y1="991.5" x2="712.3" y2="994.0" stroke="#9a9a9a" stroke-width="1" />
<text x="712.3" y="1231.6" font-family='"Liberation Sans", sans-serif' font-size="15" text-anchor="middle" fill="#444" font-weight="normal" font-style="normal"  stroke="#444" stroke-width="0.3">16</text>
<text x="570.5" y="1216.8" font-family='"Liberation Sans", sans-serif' font-size="15" text-anchor="end" fill="#444" font-weight="normal" font-style="normal"  stroke="#444" stroke-width="0.3">0</text>
<text x="570.5" y="1172.8" font-family='"Liberation Sans", sans-serif' font-size="15" text-anchor="end" fill="#444" font-weight="normal" font-style="normal"  stroke="#444" stroke-width="0.3">0.2</text>
<text x="570.5" y="1128.8" font-family='"Liberation Sans", sans-serif' font-size="15" text-anchor="end" fill="#444" font-weight="normal" font-style="normal"  stroke="#444" stroke-width="0.3">0.4</text>
<text x="570.5" y="1084.8" font-family='"Liberation Sans", sans-serif' font-size="15" text-anchor="end" fill="#444" font-weight="normal" font-style="normal"  stroke="#444" stroke-width="0.3">0.6</text>
<text x="570.5" y="1040.8" font-family='"Liberation Sans", sans-serif' font-size="15" text-anchor="end" fill="#444" font-weight="normal" font-style="normal"  stroke="#444" stroke-width="0.3">0.8</text>
<text x="570.5" y="996.8" font-family='"Liberation Sans", sans-serif' font-size="15" text-anchor="end" fill="#444" font-weight="normal" font-style="normal"  stroke="#444" stroke-width="0.3">1</text>
<text x="607" y="982.3" font-family='"Liberation Sans", sans-serif' font-size="13" text-anchor="start" fill="#222" font-weight="normal" font-style="normal" textLength="78.70000000000005" lengthAdjust="spacingAndGlyphs"  stroke="#222" stroke-width="0.3">P. acc = 0.75</text>
<text x="584.6" y="1005.8" font-family='"Liberation Sans", sans-serif' font-size="13.5" text-anchor="start" fill="#222" font-weight="normal" font-style="normal" textLength="47.10000000000002" lengthAdjust="spacingAndGlyphs"  stroke="#222" stroke-width="0.3">92.04%</text>
<text x="582.3" y="1024.6" font-family='"Liberation Sans", sans-serif' font-size="13.5" text-anchor="start" fill="#222" font-weight="normal" font-style="normal" textLength="51.700000000000045" lengthAdjust="spacingAndGlyphs"  stroke="#222" stroke-width="0.3">w/ 16 P.</text>
<rect x="748" y="991.4" width="204.39999999999998" height="219.19999999999993" fill="#fff" />
<rect x="750.30" y="1157.99" width="5.0" height="52.61" fill="#ece6ef" stroke="#aba2b0" stroke-width="1.1"/>
<rect x="760.07" y="1173.34" width="5.0" height="37.26" fill="#ece6ef" stroke="#aba2b0" stroke-width="1.1"/>
<rect x="769.84" y="1118.54" width="5.0" height="92.06" fill="#ece6ef" stroke="#aba2b0" stroke-width="1.1"/>
<rect x="779.61" y="1138.26" width="5.0" height="72.34" fill="#ece6ef" stroke="#aba2b0" stroke-width="1.1"/>
<rect x="789.38" y="1090.04" width="5.0" height="120.56" fill="#ece6ef" stroke="#aba2b0" stroke-width="1.1"/>
<rect x="799.15" y="1108.67" width="5.0" height="101.93" fill="#ece6ef" stroke="#aba2b0" stroke-width="1.1"/>
<rect x="808.92" y="1068.12" width="5.0" height="142.48" fill="#ece6ef" stroke="#aba2b0" stroke-width="1.1"/>
<rect x="818.69" y="1085.66" width="5.0" height="124.94" fill="#ece6ef" stroke="#aba2b0" stroke-width="1.1"/>
<rect x="828.46" y="1051.68" width="5.0" height="158.92" fill="#ece6ef" stroke="#aba2b0" stroke-width="1.1"/>
<rect x="838.23" y="1067.02" width="5.0" height="143.58" fill="#ece6ef" stroke="#aba2b0" stroke-width="1.1"/>
<rect x="848.00" y="1039.62" width="5.0" height="170.98" fill="#ece6ef" stroke="#aba2b0" stroke-width="1.1"/>
<rect x="857.77" y="1051.68" width="5.0" height="158.92" fill="#ece6ef" stroke="#aba2b0" stroke-width="1.1"/>
<rect x="867.54" y="1029.76" width="5.0" height="180.84" fill="#ece6ef" stroke="#aba2b0" stroke-width="1.1"/>
<rect x="877.31" y="1040.72" width="5.0" height="169.88" fill="#ece6ef" stroke="#aba2b0" stroke-width="1.1"/>
<rect x="887.08" y="1022.09" width="5.0" height="188.51" fill="#ece6ef" stroke="#aba2b0" stroke-width="1.1"/>
<rect x="896.85" y="1030.86" width="5.0" height="179.74" fill="#ece6ef" stroke="#aba2b0" stroke-width="1.1"/>
<rect x="906.62" y="1016.61" width="5.0" height="193.99" fill="#ece6ef" stroke="#aba2b0" stroke-width="1.1"/>
<rect x="916.39" y="1024.28" width="5.0" height="186.32" fill="#ece6ef" stroke="#aba2b0" stroke-width="1.1"/>
<rect x="926.16" y="1011.13" width="5.0" height="199.47" fill="#ece6ef" stroke="#aba2b0" stroke-width="1.1"/>
<rect x="935.93" y="1017.70" width="5.0" height="192.90" fill="#ece6ef" stroke="#aba2b0" stroke-width="1.1"/>
<rect x="945.70" y="1007.62" width="5.0" height="202.98" fill="#ece6ef" stroke="#aba2b0" stroke-width="1.1"/>
<line x1="748" y1="1007.66" x2="952.4" y2="1007.66" stroke="#8c8c8c" stroke-width="1.2" stroke-dasharray="4,3"/>
<rect x="748" y="991.4" width="204.39999999999998" height="219.19999999999993" fill="none" stroke="#9a9a9a" stroke-width="1.1"/>
<line x1="748" y1="1166.76" x2="750.5" y2="1166.76" stroke="#9a9a9a" stroke-width="1" />
<line x1="952.4" y1="1166.76" x2="949.9" y2="1166.76" stroke="#9a9a9a" stroke-width="1" />
<line x1="748" y1="1122.9199999999998" x2="750.5" y2="1122.9199999999998" stroke="#9a9a9a" stroke-width="1" />
<line x1="952.4" y1="1122.9199999999998" x2="949.9" y2="1122.9199999999998" stroke="#9a9a9a" stroke-width="1" />
<line x1="748" y1="1079.08" x2="750.5" y2="1079.08" stroke="#9a9a9a" stroke-width="1" />
<line x1="952.4" y1="1079.08" x2="949.9" y2="1079.08" stroke="#9a9a9a" stroke-width="1" />
<line x1="748" y1="1035.24" x2="750.5" y2="1035.24" stroke="#9a9a9a" stroke-width="1" />
<line x1="952.4" y1="1035.24" x2="949.9" y2="1035.24" stroke="#9a9a9a" stroke-width="1" />
<line x1="752.8" y1="1210.6" x2="752.8" y2="1208.1" stroke="#9a9a9a" stroke-width="1" />
<line x1="752.8" y1="991.4" x2="752.8" y2="993.9" stroke="#9a9a9a" stroke-width="1" />
<text x="752.8" y="1231.6" font-family='"Liberation Sans", sans-serif' font-size="15" text-anchor="middle" fill="#444" font-weight="normal" font-style="normal"  stroke="#444" stroke-width="0.3">4</text>
<line x1="791.9" y1="1210.6" x2="791.9" y2="1208.1" stroke="#9a9a9a" stroke-width="1" />
<line x1="791.9" y1="991.4" x2="791.9" y2="993.9" stroke="#9a9a9a" stroke-width="1" />
<text x="791.9" y="1231.6" font-family='"Liberation Sans", sans-serif' font-size="15" text-anchor="middle" fill="#444" font-weight="normal" font-style="normal"  stroke="#444" stroke-width="0.3">8</text>
<line x1="831" y1="1210.6" x2="831" y2="1208.1" stroke="#9a9a9a" stroke-width="1" />
<line x1="831" y1="991.4" x2="831" y2="993.9" stroke="#9a9a9a" stroke-width="1" />
<text x="831" y="1231.6" font-family='"Liberation Sans", sans-serif' font-size="15" text-anchor="middle" fill="#444" font-weight="normal" font-style="normal"  stroke="#444" stroke-width="0.3">12</text>
<line x1="870" y1="1210.6" x2="870" y2="1208.1" stroke="#9a9a9a" stroke-width="1" />
<line x1="870" y1="991.4" x2="870" y2="993.9" stroke="#9a9a9a" stroke-width="1" />
<text x="870" y="1231.6" font-family='"Liberation Sans", sans-serif' font-size="15" text-anchor="middle" fill="#444" font-weight="normal" font-style="normal"  stroke="#444" stroke-width="0.3">16</text>
<line x1="909.2" y1="1210.6" x2="909.2" y2="1208.1" stroke="#9a9a9a" stroke-width="1" />
<line x1="909.2" y1="991.4" x2="909.2" y2="993.9" stroke="#9a9a9a" stroke-width="1" />
<text x="909.2" y="1231.6" font-family='"Liberation Sans", sans-serif' font-size="15" text-anchor="middle" fill="#444" font-weight="normal" font-style="normal"  stroke="#444" stroke-width="0.3">20</text>
<line x1="948.2" y1="1210.6" x2="948.2" y2="1208.1" stroke="#9a9a9a" stroke-width="1" />
<line x1="948.2" y1="991.4" x2="948.2" y2="993.9" stroke="#9a9a9a" stroke-width="1" />
<text x="948.2" y="1231.6" font-family='"Liberation Sans", sans-serif' font-size="15" text-anchor="middle" fill="#444" font-weight="normal" font-style="normal"  stroke="#444" stroke-width="0.3">24</text>
<text x="742.4" y="1215.8999999999999" font-family='"Liberation Sans", sans-serif' font-size="15" text-anchor="end" fill="#444" font-weight="normal" font-style="normal"  stroke="#444" stroke-width="0.3">0</text>
<text x="742.4" y="1172.06" font-family='"Liberation Sans", sans-serif' font-size="15" text-anchor="end" fill="#444" font-weight="normal" font-style="normal"  stroke="#444" stroke-width="0.3">0.2</text>
<text x="742.4" y="1128.2199999999998" font-family='"Liberation Sans", sans-serif' font-size="15" text-anchor="end" fill="#444" font-weight="normal" font-style="normal"  stroke="#444" stroke-width="0.3">0.4</text>
<text x="742.4" y="1084.3799999999999" font-family='"Liberation Sans", sans-serif' font-size="15" text-anchor="end" fill="#444" font-weight="normal" font-style="normal"  stroke="#444" stroke-width="0.3">0.6</text>
<text x="742.4" y="1040.54" font-family='"Liberation Sans", sans-serif' font-size="15" text-anchor="end" fill="#444" font-weight="normal" font-style="normal"  stroke="#444" stroke-width="0.3">0.8</text>
<text x="742.4" y="996.6999999999999" font-family='"Liberation Sans", sans-serif' font-size="15" text-anchor="end" fill="#444" font-weight="normal" font-style="normal"  stroke="#444" stroke-width="0.3">1</text>
<text x="812.4" y="982.3" font-family='"Liberation Sans", sans-serif' font-size="13" text-anchor="start" fill="#222" font-weight="normal" font-style="normal" textLength="78.39999999999998" lengthAdjust="spacingAndGlyphs"  stroke="#222" stroke-width="0.3">P. acc = 0.70</text>
<text x="757.8" y="1006" font-family='"Liberation Sans", sans-serif' font-size="13.5" text-anchor="start" fill="#222" font-weight="normal" font-style="normal" textLength="46.200000000000045" lengthAdjust="spacingAndGlyphs"  stroke="#222" stroke-width="0.3">92.58%</text>
<text x="756.4" y="1023.8" font-family='"Liberation Sans", sans-serif' font-size="13.5" text-anchor="start" fill="#222" font-weight="normal" font-style="normal" textLength="51.60000000000002" lengthAdjust="spacingAndGlyphs"  stroke="#222" stroke-width="0.3">w/ 24 P.</text>
<text transform="translate(392.3,1162) rotate(-90)" font-family='"Liberation Sans", sans-serif' font-size="17.5" fill="#222" textLength="127" lengthAdjust="spacingAndGlyphs" stroke="#222" stroke-width="0.3">10-category acc.</text>
<text x="621" y="1250" font-family='"Liberation Sans", sans-serif' font-size="19" text-anchor="start" fill="#222" font-weight="normal" font-style="normal" textLength="153" lengthAdjust="spacingAndGlyphs"  stroke="#222" stroke-width="0.3">Number of paths</text>
<g opacity="0.55">
<circle cx="746" cy="1206" r="10" fill="#9a9a9a"/><circle cx="756" cy="1217" r="8.5" fill="#8a8a8a"/><circle cx="742" cy="1204" r="1.6" fill="#eee"/><circle cx="750" cy="1204" r="1.6" fill="#eee"/><circle cx="753" cy="1216" r="1.2" fill="#eee"/><circle cx="759" cy="1216" r="1.2" fill="#eee"/>
<path d="M784 1202 L777 1213 M791 1202 L800 1212 M787 1210 L780 1224 L798 1222 M794 1217 L799 1224" stroke="#8e8e8e" stroke-width="2.2" fill="none" stroke-linecap="round"/>
<path d="M815 1201 L808 1210 M815 1201 L822 1210 M810 1214 L805 1225 M810 1214 L814 1224 M820 1214 L815 1225 M820 1214 L826 1224" stroke="#8e8e8e" stroke-width="2.2" fill="none" stroke-linecap="round"/>
<path d="M836 1202 L850 1202 L850 1209 L836 1209 Z M833 1213 L854 1213 M840 1213 L838 1219 L851 1219 L849 1226 L845 1226" stroke="#8e8e8e" stroke-width="2.2" fill="none" stroke-linecap="round"/>
<circle cx="867" cy="1213" r="1.8" fill="#8e8e8e" />
<path d="M882 1203 L892 1203 M880 1208 L894 1208 M887 1208 L887 1226 M880 1215 L894 1215 M883 1219 L880 1224 M891 1219 L894 1223 M898 1202 L898 1226 M898 1209 L906 1209 M903 1209 L903 1226" stroke="#8e8e8e" stroke-width="2.2" fill="none" stroke-linecap="round"/>
<path d="M913 1201 L913 1207 M911 1205 L921 1205 M916 1201 L916 1209 L912 1211 M916 1207 L921 1211 M924 1203 L931 1203 L931 1210 L924 1210 Z M915 1214 L929 1214 L929 1226 L915 1226 Z M915 1220 L929 1220" stroke="#8e8e8e" stroke-width="2.2" fill="none" stroke-linecap="round"/>
<path d="M940 1203 L956 1203 M937 1210 L959 1210 M944 1210 L944 1219 L938 1226 M951 1210 L951 1224 L960 1224 L960 1220" stroke="#8e8e8e" stroke-width="2.2" fill="none" stroke-linecap="round"/>
</g>
</g>
</svg>
</body></html>
